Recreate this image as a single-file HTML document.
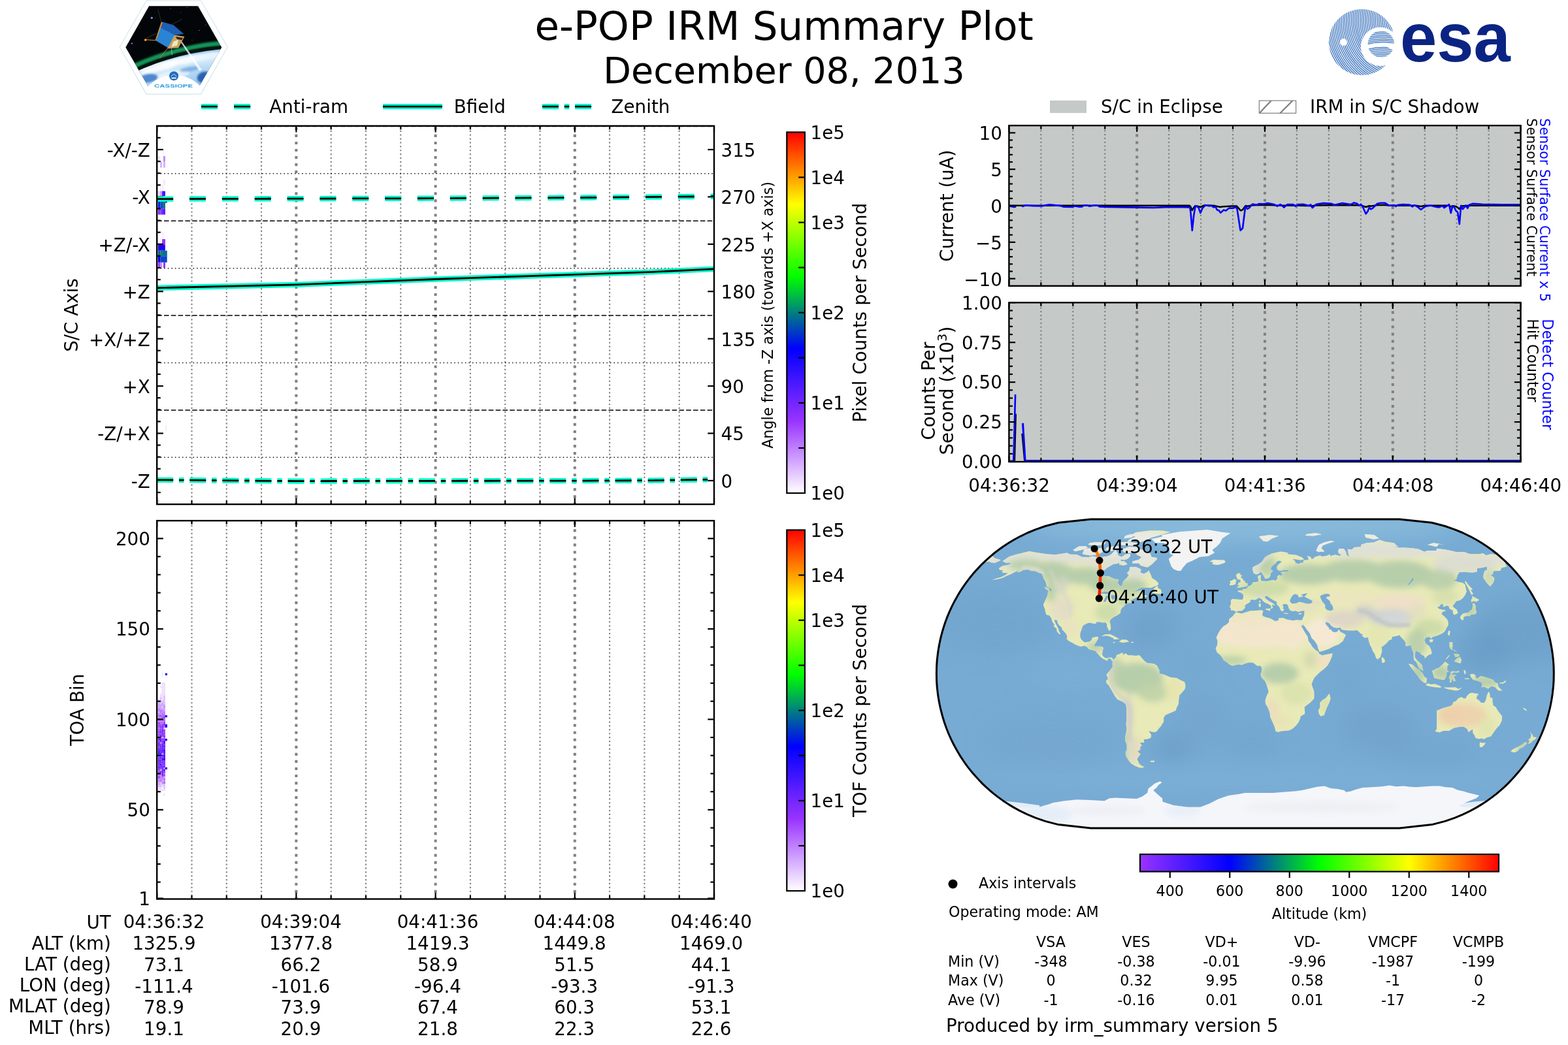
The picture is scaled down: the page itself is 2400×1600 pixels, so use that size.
<!DOCTYPE html>
<html lang="en"><head><meta charset="utf-8"><title>e-POP IRM Summary Plot</title>
<style>
html,body{margin:0;padding:0;background:#fff;}
body{width:2400px;height:1600px;overflow:hidden;}
svg{display:block;font-family:'DejaVu Sans','Liberation Sans',sans-serif;}
</style></head><body>
<svg width="2400" height="1600" viewBox="0 0 2400 1600">
<rect width="2400" height="1600" fill="#fff"/>
<g id="cassiope">
<defs><clipPath id="hexc"><polygon points="192.3,72.4 228.1,9.2 303.1,9.2 339.2,72.4 305.4,131.4 226.3,131.4"/></clipPath><radialGradient id="earthg" cx="0.5" cy="0.5" r="0.5"><stop offset="0" stop-color="#3d7fca"/><stop offset="0.8" stop-color="#6aa6de"/><stop offset="0.94" stop-color="#b9dcf5"/><stop offset="0.985" stop-color="#eaf6ff"/><stop offset="1" stop-color="#8fc4ee"/></radialGradient><filter id="bl2" x="-20%" y="-20%" width="140%" height="140%"><feGaussianBlur stdDeviation="1.6"/></filter><filter id="bl1" x="-20%" y="-20%" width="140%" height="140%"><feGaussianBlur stdDeviation="0.7"/></filter></defs>
<polygon points="183.2,72.1 224,1 307.5,1 348.3,72.1 307.5,144.1 224,144.1" fill="#fff" stroke="#cfe6ea" stroke-width="1.1"/>
<g clip-path="url(#hexc)">
<rect x="190" y="8" width="152" height="125" fill="#030608"/>
<circle cx="373.2" cy="471.9" r="407" fill="none" stroke="#19b36b" stroke-width="7" opacity="0.85" filter="url(#bl2)"/>
<circle cx="373.2" cy="471.9" r="400.4" fill="none" stroke="#04140c" stroke-width="5"/>
<circle cx="373.2" cy="471.9" r="398" fill="url(#earthg)"/>
<clipPath id="earthc"><circle cx="373.2" cy="471.9" r="398"/></clipPath>
<g clip-path="url(#earthc)"><g filter="url(#bl2)">
<ellipse cx="239.3" cy="102" rx="33.2" ry="7" fill="#ffffff" opacity="0.75" transform="rotate(-9 239.3 102)"/>
<ellipse cx="283.9" cy="91.8" rx="33.2" ry="5.7" fill="#ffffff" opacity="0.7" transform="rotate(-9 283.9 91.8)"/>
<ellipse cx="315.8" cy="86.7" rx="20.4" ry="5.1" fill="#e8f4ff" opacity="0.7" transform="rotate(-9 315.8 86.7)"/>
<ellipse cx="264.8" cy="114.8" rx="25.5" ry="6.4" fill="#ffffff" opacity="0.6" transform="rotate(-9 264.8 114.8)"/>
<ellipse cx="226.5" cy="119.9" rx="15.3" ry="6.4" fill="#2f6fc2" opacity="0.8" transform="rotate(-9 226.5 119.9)"/>
<ellipse cx="313.3" cy="118.6" rx="11.5" ry="8.9" fill="#1f55ad" opacity="0.9" transform="rotate(-9 313.3 118.6)"/>
<ellipse cx="290.3" cy="105.9" rx="15.3" ry="3.8" fill="#5a98da" opacity="0.6" transform="rotate(-9 290.3 105.9)"/>
<ellipse cx="246.9" cy="126.3" rx="10.2" ry="3.8" fill="#7fb3e6" opacity="0.7" transform="rotate(-9 246.9 126.3)"/>
</g></g>
<circle cx="232.3" cy="27.4" r="1.6" fill="#8f8fe0"/>
<circle cx="202" cy="66.6" r="1.2" fill="#7c7cd6"/>
<circle cx="305" cy="46.6" r="0.6" fill="#bbb"/>
<circle cx="261" cy="13.4" r="0.5" fill="#999"/>
<circle cx="286.5" cy="11.5" r="0.5" fill="#888"/>
<circle cx="276.3" cy="19.1" r="0.5" fill="#777"/>
<circle cx="314.5" cy="38.3" r="0.5" fill="#999"/>
<circle cx="213.8" cy="42.1" r="0.5" fill="#777"/>
<circle cx="294.1" cy="61.2" r="0.5" fill="#888"/>
<circle cx="238" cy="26.8" r="0.5" fill="#666"/>
<polygon points="275.6,63.1 277.6,62.5 308.8,106.5 305,108.4" fill="#ffffff" opacity="0.75"/>
<line x1="246.9" y1="33.8" x2="241.8" y2="14" stroke="#5a5a4a" stroke-width="0.5"/>
<line x1="264.2" y1="37" x2="278.8" y2="29.1" stroke="#6a5a3a" stroke-width="0.5"/>
<line x1="239.3" y1="61.9" x2="221.4" y2="60.6" stroke="#e0902a" stroke-width="1.0"/>
<line x1="239.3" y1="51" x2="221.4" y2="59.9" stroke="#8a6a3a" stroke-width="0.5"/>
<line x1="257.1" y1="73.3" x2="244.4" y2="89.3" stroke="#c9772a" stroke-width="1.0"/>
<line x1="262.2" y1="74" x2="263.5" y2="84.2" stroke="#b9b9c9" stroke-width="0.8"/>
<circle cx="222.7" cy="61.2" r="1.6" fill="#ffb84a"/>
<polygon points="266.7,53.6 282.4,55.9 273.1,73.3 256.5,74.6 255.9,68.9" fill="#c9a25a"/>
<polygon points="265.4,63.8 273.1,60.6 271.2,69.5 262.2,72.1" fill="#efe6c8"/>
<polygon points="268.6,56.1 280.1,58 278.2,61.2 271.2,59.9" fill="#2a2418"/>
<polygon points="248.2,33.4 265.4,38.3 281.4,52 266.7,53.8 245,42.1" fill="#1c5fb4"/>
<polygon points="245,41.8 267.1,53.6 256.9,73 238,62.1" fill="#2a84d4"/>
<polygon points="246.9,33.4 248.9,34.2 239.3,61.2 237.8,61" fill="#d8922e"/>
</g>
<clipPath id="hexw"><polygon points="188.3,72.4 226.5,5.1 304.3,5.1 342.6,72.4 305.9,136.5 225.8,136.5"/></clipPath>
<circle cx="266.7" cy="169.6" r="54.8" fill="#ffffff" clip-path="url(#hexw)"/>
<circle cx="266.1" cy="116.3" r="7" fill="#1f6dbd"/><path d="M262.1 117.3 Q266.1 110.3 270.1 117.3" fill="none" stroke="#dbe9f7" stroke-width="0.9"/><rect x="262.5" y="118.5" width="7.2" height="2" fill="#e8f0fa"/>
<text x="236.1" y="133.5" font-family="'Liberation Sans','DejaVu Sans',sans-serif" font-weight="bold" font-size="6.6" fill="#2a9fd8" textLength="59" lengthAdjust="spacingAndGlyphs">CASSIOPE</text>
</g>
<g id="esa">
<defs><clipPath id="esac"><circle cx="2084.5" cy="64.6" r="50.6"/></clipPath><clipPath id="esae"><circle cx="2113.9" cy="67.5" r="20.3"/></clipPath><mask id="esam"><rect x="2020" y="0" width="140" height="130" fill="#fff"/><circle cx="2112.5" cy="71.4" r="29.6" fill="#000"/><circle cx="2056.4" cy="64.6" r="5.5" fill="#000"/></mask></defs>
<g clip-path="url(#esac)"><g mask="url(#esam)" fill="none" stroke="#4a7ec2" stroke-width="1.5">
<circle cx="2151.4" cy="30.4" r="12"/>
<circle cx="2151.4" cy="30.4" r="14.6"/>
<circle cx="2151.4" cy="30.4" r="17.2"/>
<circle cx="2151.4" cy="30.4" r="19.9"/>
<circle cx="2151.4" cy="30.4" r="22.5"/>
<circle cx="2151.4" cy="30.4" r="25.1"/>
<circle cx="2151.4" cy="30.4" r="27.7"/>
<circle cx="2151.4" cy="30.4" r="30.3"/>
<circle cx="2151.4" cy="30.4" r="33"/>
<circle cx="2151.4" cy="30.4" r="35.6"/>
<circle cx="2151.4" cy="30.4" r="38.2"/>
<circle cx="2151.4" cy="30.4" r="40.8"/>
<circle cx="2151.4" cy="30.4" r="43.4"/>
<circle cx="2151.4" cy="30.4" r="46.1"/>
<circle cx="2151.4" cy="30.4" r="48.7"/>
<circle cx="2151.4" cy="30.4" r="51.3"/>
<circle cx="2151.4" cy="30.4" r="53.9"/>
<circle cx="2151.4" cy="30.4" r="56.5"/>
<circle cx="2151.4" cy="30.4" r="59.2"/>
<circle cx="2151.4" cy="30.4" r="61.8"/>
<circle cx="2151.4" cy="30.4" r="64.4"/>
<circle cx="2151.4" cy="30.4" r="67"/>
<circle cx="2151.4" cy="30.4" r="69.6"/>
<circle cx="2151.4" cy="30.4" r="72.3"/>
<circle cx="2151.4" cy="30.4" r="74.9"/>
<circle cx="2151.4" cy="30.4" r="77.5"/>
<circle cx="2151.4" cy="30.4" r="80.1"/>
<circle cx="2151.4" cy="30.4" r="82.7"/>
<circle cx="2151.4" cy="30.4" r="85.4"/>
<circle cx="2151.4" cy="30.4" r="88"/>
<circle cx="2151.4" cy="30.4" r="90.6"/>
<circle cx="2151.4" cy="30.4" r="93.2"/>
<circle cx="2151.4" cy="30.4" r="95.8"/>
<circle cx="2151.4" cy="30.4" r="98.5"/>
<circle cx="2151.4" cy="30.4" r="101.1"/>
<circle cx="2151.4" cy="30.4" r="103.7"/>
<circle cx="2151.4" cy="30.4" r="106.3"/>
<circle cx="2151.4" cy="30.4" r="108.9"/>
<circle cx="2151.4" cy="30.4" r="111.6"/>
<circle cx="2151.4" cy="30.4" r="114.2"/>
<circle cx="2151.4" cy="30.4" r="116.8"/>
<circle cx="2151.4" cy="30.4" r="119.4"/>
<circle cx="2151.4" cy="30.4" r="122"/>
<circle cx="2151.4" cy="30.4" r="124.7"/>
<circle cx="2151.4" cy="30.4" r="127.3"/>
<circle cx="2151.4" cy="30.4" r="129.9"/>
<circle cx="2151.4" cy="30.4" r="132.5"/>
<circle cx="2151.4" cy="30.4" r="135.1"/>
<circle cx="2151.4" cy="30.4" r="137.8"/>
</g></g>
<g clip-path="url(#esae)" stroke="#4a7ec2" stroke-width="1.5" fill="none">
<path d="M2091.9 49.5 Q2113.9 44 2135.9 48"/>
<path d="M2091.9 52.1 Q2113.9 46.6 2135.9 50.6"/>
<path d="M2091.9 54.7 Q2113.9 49.2 2135.9 53.2"/>
<path d="M2091.9 57.4 Q2113.9 51.9 2135.9 55.9"/>
<path d="M2091.9 60 Q2113.9 54.5 2135.9 58.5"/>
<path d="M2091.9 62.6 Q2113.9 57.1 2135.9 61.1"/>
<path d="M2091.9 65.2 Q2113.9 59.7 2135.9 63.7"/>
<path d="M2091.9 67.8 Q2113.9 62.3 2135.9 66.3"/>
<path d="M2091.9 75.7 Q2113.9 70.2 2135.9 74.2"/>
<path d="M2091.9 78.3 Q2113.9 72.8 2135.9 76.8"/>
<path d="M2091.9 80.9 Q2113.9 75.4 2135.9 79.4"/>
<path d="M2091.9 83.6 Q2113.9 78.1 2135.9 82.1"/>
<path d="M2091.9 86.2 Q2113.9 80.7 2135.9 84.7"/>
<path d="M2091.9 88.8 Q2113.9 83.3 2135.9 87.3"/>
<path d="M2091.9 91.4 Q2113.9 85.9 2135.9 89.9"/>
</g>
<rect x="2100.9" y="66.5" width="36" height="4.6" fill="#fff"/>
<path d="M2121.9 71.1 L2137.9 71.1 L2137.9 80.5 Z" fill="#fff"/>
<text x="2142.9" y="93.8" font-family="'Liberation Sans','DejaVu Sans',sans-serif" font-weight="bold" font-size="106" fill="#0b2484" textLength="169" lengthAdjust="spacingAndGlyphs">esa</text>
</g>
<text x="1200" y="61.4" font-size="61.1" text-anchor="middle" fill="#000">e-POP IRM Summary Plot</text>
<text x="1200" y="127.4" font-size="55.6" text-anchor="middle" fill="#000">December 08, 2013</text>
<g id="axA">
<rect x="248.4" y="210.7" width="1.5" height="9.2" fill="#f6f0ff"/><rect x="249.9" y="230.6" width="1.2" height="8.4" fill="#f3eaff"/><rect x="241.9" y="239" width="3.4" height="8.4" fill="#efe4ff"/><rect x="245" y="247.8" width="3.1" height="8.9" fill="#d9b8ff"/><rect x="249.9" y="239" width="3.1" height="8.7" fill="#c48cff"/><rect x="249.9" y="247.8" width="3.1" height="8.9" fill="#d6b0ff"/><rect x="249.9" y="275" width="3.1" height="8.4" fill="#f3eaff"/><rect x="248.4" y="283.4" width="1.5" height="9.2" fill="#f0e6ff"/><rect x="245" y="285.7" width="1.2" height="6.9" fill="#f3eaff"/><rect x="241.9" y="292.6" width="3.4" height="7.7" fill="#e8d6ff"/><rect x="245" y="292.6" width="3.1" height="7.7" fill="#c89bff"/><rect x="248.1" y="292.6" width="4.9" height="7.7" fill="#4a14ff"/><rect x="241.9" y="308.4" width="3.4" height="11.3" fill="#0a22e6"/><rect x="245.3" y="308.4" width="4.6" height="11.3" fill="#0f4fbe"/><rect x="249.9" y="308.4" width="3.1" height="11.3" fill="#0a7380"/><rect x="253" y="308.1" width="2.8" height="2.4" fill="#1a10ff"/><rect x="241.9" y="319.7" width="3.4" height="8.9" fill="#9030ff"/><rect x="245.3" y="319.7" width="2.8" height="8.9" fill="#8433ff"/><rect x="248.1" y="319.7" width="4.9" height="8.9" fill="#5a22ff"/><rect x="248.4" y="356.1" width="2.3" height="9.9" fill="#f3eaff"/><rect x="241.9" y="365.3" width="1.2" height="6.1" fill="#efe4ff"/><rect x="245" y="365.3" width="1.2" height="6.1" fill="#f0e6ff"/><rect x="248.1" y="366.1" width="4.9" height="8.7" fill="#9933ff"/><rect x="241.9" y="374.8" width="11" height="8.9" fill="#2200ff"/><rect x="241.9" y="383.7" width="3.4" height="9.2" fill="#0a6294"/><rect x="245.3" y="383.7" width="2.8" height="9.2" fill="#0a8272"/><rect x="248.1" y="383.7" width="7.7" height="9.2" fill="#0a6f94"/><rect x="241.9" y="392.9" width="3.4" height="8.9" fill="#0000ff"/><rect x="245.3" y="392.9" width="10.4" height="8.9" fill="#1042d2"/><rect x="241.9" y="401.7" width="3.4" height="8.3" fill="#a040ff"/><rect x="245.3" y="401.7" width="2.8" height="8.3" fill="#c58aff"/><rect x="249.9" y="401.7" width="3.1" height="8.3" fill="#9933ff"/><rect x="252.8" y="651" width="2.4" height="9" fill="#f5edff"/><rect x="241.8" y="766" width="2.4" height="4" fill="#e9d8ff"/>
<line x1="293.5" y1="192.8" x2="293.5" y2="772.1" stroke="#808080" stroke-width="2.1" stroke-dasharray="2.22 3.67" stroke-dashoffset="-1"/>
<line x1="346.8" y1="192.8" x2="346.8" y2="772.1" stroke="#808080" stroke-width="2.1" stroke-dasharray="2.22 3.67" stroke-dashoffset="-1"/>
<line x1="400.1" y1="192.8" x2="400.1" y2="772.1" stroke="#808080" stroke-width="2.1" stroke-dasharray="2.22 3.67" stroke-dashoffset="-1"/>
<line x1="453.4" y1="192.8" x2="453.4" y2="772.1" stroke="#808080" stroke-width="4" stroke-dasharray="4.17 6.88" stroke-dashoffset="-2"/>
<line x1="506.7" y1="192.8" x2="506.7" y2="772.1" stroke="#808080" stroke-width="2.1" stroke-dasharray="2.22 3.67" stroke-dashoffset="-1"/>
<line x1="560" y1="192.8" x2="560" y2="772.1" stroke="#808080" stroke-width="2.1" stroke-dasharray="2.22 3.67" stroke-dashoffset="-1"/>
<line x1="613.3" y1="192.8" x2="613.3" y2="772.1" stroke="#808080" stroke-width="2.1" stroke-dasharray="2.22 3.67" stroke-dashoffset="-1"/>
<line x1="666.6" y1="192.8" x2="666.6" y2="772.1" stroke="#808080" stroke-width="4" stroke-dasharray="4.17 6.88" stroke-dashoffset="-2"/>
<line x1="719.9" y1="192.8" x2="719.9" y2="772.1" stroke="#808080" stroke-width="2.1" stroke-dasharray="2.22 3.67" stroke-dashoffset="-1"/>
<line x1="773.2" y1="192.8" x2="773.2" y2="772.1" stroke="#808080" stroke-width="2.1" stroke-dasharray="2.22 3.67" stroke-dashoffset="-1"/>
<line x1="826.5" y1="192.8" x2="826.5" y2="772.1" stroke="#808080" stroke-width="2.1" stroke-dasharray="2.22 3.67" stroke-dashoffset="-1"/>
<line x1="879.8" y1="192.8" x2="879.8" y2="772.1" stroke="#808080" stroke-width="4" stroke-dasharray="4.17 6.88" stroke-dashoffset="-2"/>
<line x1="933.1" y1="192.8" x2="933.1" y2="772.1" stroke="#808080" stroke-width="2.1" stroke-dasharray="2.22 3.67" stroke-dashoffset="-1"/>
<line x1="986.4" y1="192.8" x2="986.4" y2="772.1" stroke="#808080" stroke-width="2.1" stroke-dasharray="2.22 3.67" stroke-dashoffset="-1"/>
<line x1="1039.7" y1="192.8" x2="1039.7" y2="772.1" stroke="#808080" stroke-width="2.1" stroke-dasharray="2.22 3.67" stroke-dashoffset="-1"/>
<line x1="240.2" y1="700.29" x2="1093" y2="700.29" stroke="#000" stroke-width="1.5" stroke-dasharray="1.4 4.15"/>
<line x1="240.2" y1="627.88" x2="1093" y2="627.88" stroke="#000" stroke-width="1.5" stroke-dasharray="7.6 3.2"/>
<line x1="240.2" y1="555.46" x2="1093" y2="555.46" stroke="#000" stroke-width="1.5" stroke-dasharray="1.4 4.15"/>
<line x1="240.2" y1="483.05" x2="1093" y2="483.05" stroke="#000" stroke-width="1.5" stroke-dasharray="7.6 3.2"/>
<line x1="240.2" y1="410.64" x2="1093" y2="410.64" stroke="#000" stroke-width="1.5" stroke-dasharray="1.4 4.15"/>
<line x1="240.2" y1="338.23" x2="1093" y2="338.23" stroke="#000" stroke-width="1.5" stroke-dasharray="7.6 3.2"/>
<line x1="240.2" y1="265.81" x2="1093" y2="265.81" stroke="#000" stroke-width="1.5" stroke-dasharray="1.4 4.15"/>
<line x1="240.2" y1="193.4" x2="1093" y2="193.4" stroke="#000" stroke-width="1.5" stroke-dasharray="7.6 3.2"/>
<line x1="240.2" y1="192.8" x2="240.2" y2="202.5" stroke="#000" stroke-width="2.2"/>
<line x1="240.2" y1="772.1" x2="240.2" y2="762.4" stroke="#000" stroke-width="2.2"/>
<line x1="293.5" y1="192.8" x2="293.5" y2="198.4" stroke="#000" stroke-width="2.2"/>
<line x1="293.5" y1="772.1" x2="293.5" y2="766.5" stroke="#000" stroke-width="2.2"/>
<line x1="346.8" y1="192.8" x2="346.8" y2="198.4" stroke="#000" stroke-width="2.2"/>
<line x1="346.8" y1="772.1" x2="346.8" y2="766.5" stroke="#000" stroke-width="2.2"/>
<line x1="400.1" y1="192.8" x2="400.1" y2="198.4" stroke="#000" stroke-width="2.2"/>
<line x1="400.1" y1="772.1" x2="400.1" y2="766.5" stroke="#000" stroke-width="2.2"/>
<line x1="453.4" y1="192.8" x2="453.4" y2="202.5" stroke="#000" stroke-width="2.2"/>
<line x1="453.4" y1="772.1" x2="453.4" y2="762.4" stroke="#000" stroke-width="2.2"/>
<line x1="506.7" y1="192.8" x2="506.7" y2="198.4" stroke="#000" stroke-width="2.2"/>
<line x1="506.7" y1="772.1" x2="506.7" y2="766.5" stroke="#000" stroke-width="2.2"/>
<line x1="560" y1="192.8" x2="560" y2="198.4" stroke="#000" stroke-width="2.2"/>
<line x1="560" y1="772.1" x2="560" y2="766.5" stroke="#000" stroke-width="2.2"/>
<line x1="613.3" y1="192.8" x2="613.3" y2="198.4" stroke="#000" stroke-width="2.2"/>
<line x1="613.3" y1="772.1" x2="613.3" y2="766.5" stroke="#000" stroke-width="2.2"/>
<line x1="666.6" y1="192.8" x2="666.6" y2="202.5" stroke="#000" stroke-width="2.2"/>
<line x1="666.6" y1="772.1" x2="666.6" y2="762.4" stroke="#000" stroke-width="2.2"/>
<line x1="719.9" y1="192.8" x2="719.9" y2="198.4" stroke="#000" stroke-width="2.2"/>
<line x1="719.9" y1="772.1" x2="719.9" y2="766.5" stroke="#000" stroke-width="2.2"/>
<line x1="773.2" y1="192.8" x2="773.2" y2="198.4" stroke="#000" stroke-width="2.2"/>
<line x1="773.2" y1="772.1" x2="773.2" y2="766.5" stroke="#000" stroke-width="2.2"/>
<line x1="826.5" y1="192.8" x2="826.5" y2="198.4" stroke="#000" stroke-width="2.2"/>
<line x1="826.5" y1="772.1" x2="826.5" y2="766.5" stroke="#000" stroke-width="2.2"/>
<line x1="879.8" y1="192.8" x2="879.8" y2="202.5" stroke="#000" stroke-width="2.2"/>
<line x1="879.8" y1="772.1" x2="879.8" y2="762.4" stroke="#000" stroke-width="2.2"/>
<line x1="933.1" y1="192.8" x2="933.1" y2="198.4" stroke="#000" stroke-width="2.2"/>
<line x1="933.1" y1="772.1" x2="933.1" y2="766.5" stroke="#000" stroke-width="2.2"/>
<line x1="986.4" y1="192.8" x2="986.4" y2="198.4" stroke="#000" stroke-width="2.2"/>
<line x1="986.4" y1="772.1" x2="986.4" y2="766.5" stroke="#000" stroke-width="2.2"/>
<line x1="1039.7" y1="192.8" x2="1039.7" y2="198.4" stroke="#000" stroke-width="2.2"/>
<line x1="1039.7" y1="772.1" x2="1039.7" y2="766.5" stroke="#000" stroke-width="2.2"/>
<line x1="1093" y1="192.8" x2="1093" y2="202.5" stroke="#000" stroke-width="2.2"/>
<line x1="1093" y1="772.1" x2="1093" y2="762.4" stroke="#000" stroke-width="2.2"/>
<line x1="240.2" y1="754" x2="245.8" y2="754" stroke="#000" stroke-width="2.2"/>
<line x1="240.2" y1="735.89" x2="249.9" y2="735.89" stroke="#000" stroke-width="2.2"/>
<line x1="240.2" y1="717.79" x2="245.8" y2="717.79" stroke="#000" stroke-width="2.2"/>
<line x1="240.2" y1="699.69" x2="245.8" y2="699.69" stroke="#000" stroke-width="2.2"/>
<line x1="240.2" y1="681.58" x2="245.8" y2="681.58" stroke="#000" stroke-width="2.2"/>
<line x1="240.2" y1="663.48" x2="249.9" y2="663.48" stroke="#000" stroke-width="2.2"/>
<line x1="240.2" y1="645.38" x2="245.8" y2="645.38" stroke="#000" stroke-width="2.2"/>
<line x1="240.2" y1="627.28" x2="245.8" y2="627.28" stroke="#000" stroke-width="2.2"/>
<line x1="240.2" y1="609.17" x2="245.8" y2="609.17" stroke="#000" stroke-width="2.2"/>
<line x1="240.2" y1="591.07" x2="249.9" y2="591.07" stroke="#000" stroke-width="2.2"/>
<line x1="240.2" y1="572.97" x2="245.8" y2="572.97" stroke="#000" stroke-width="2.2"/>
<line x1="240.2" y1="554.86" x2="245.8" y2="554.86" stroke="#000" stroke-width="2.2"/>
<line x1="240.2" y1="536.76" x2="245.8" y2="536.76" stroke="#000" stroke-width="2.2"/>
<line x1="240.2" y1="518.66" x2="249.9" y2="518.66" stroke="#000" stroke-width="2.2"/>
<line x1="240.2" y1="500.55" x2="245.8" y2="500.55" stroke="#000" stroke-width="2.2"/>
<line x1="240.2" y1="482.45" x2="245.8" y2="482.45" stroke="#000" stroke-width="2.2"/>
<line x1="240.2" y1="464.35" x2="245.8" y2="464.35" stroke="#000" stroke-width="2.2"/>
<line x1="240.2" y1="446.24" x2="249.9" y2="446.24" stroke="#000" stroke-width="2.2"/>
<line x1="240.2" y1="428.14" x2="245.8" y2="428.14" stroke="#000" stroke-width="2.2"/>
<line x1="240.2" y1="410.04" x2="245.8" y2="410.04" stroke="#000" stroke-width="2.2"/>
<line x1="240.2" y1="391.93" x2="245.8" y2="391.93" stroke="#000" stroke-width="2.2"/>
<line x1="240.2" y1="373.83" x2="249.9" y2="373.83" stroke="#000" stroke-width="2.2"/>
<line x1="240.2" y1="355.73" x2="245.8" y2="355.73" stroke="#000" stroke-width="2.2"/>
<line x1="240.2" y1="337.62" x2="245.8" y2="337.62" stroke="#000" stroke-width="2.2"/>
<line x1="240.2" y1="319.52" x2="245.8" y2="319.52" stroke="#000" stroke-width="2.2"/>
<line x1="240.2" y1="301.42" x2="249.9" y2="301.42" stroke="#000" stroke-width="2.2"/>
<line x1="240.2" y1="283.32" x2="245.8" y2="283.32" stroke="#000" stroke-width="2.2"/>
<line x1="240.2" y1="265.21" x2="245.8" y2="265.21" stroke="#000" stroke-width="2.2"/>
<line x1="240.2" y1="247.11" x2="245.8" y2="247.11" stroke="#000" stroke-width="2.2"/>
<line x1="240.2" y1="229.01" x2="249.9" y2="229.01" stroke="#000" stroke-width="2.2"/>
<line x1="240.2" y1="210.9" x2="245.8" y2="210.9" stroke="#000" stroke-width="2.2"/>
<line x1="1093" y1="735.89" x2="1083.3" y2="735.89" stroke="#000" stroke-width="2.2"/>
<line x1="1093" y1="663.48" x2="1083.3" y2="663.48" stroke="#000" stroke-width="2.2"/>
<line x1="1093" y1="591.07" x2="1083.3" y2="591.07" stroke="#000" stroke-width="2.2"/>
<line x1="1093" y1="518.66" x2="1083.3" y2="518.66" stroke="#000" stroke-width="2.2"/>
<line x1="1093" y1="446.24" x2="1083.3" y2="446.24" stroke="#000" stroke-width="2.2"/>
<line x1="1093" y1="373.83" x2="1083.3" y2="373.83" stroke="#000" stroke-width="2.2"/>
<line x1="1093" y1="301.42" x2="1083.3" y2="301.42" stroke="#000" stroke-width="2.2"/>
<line x1="1093" y1="229.01" x2="1083.3" y2="229.01" stroke="#000" stroke-width="2.2"/>
<clipPath id="clipA"><rect x="240.2" y="192.8" width="852.8" height="579.3"/></clipPath>
<g clip-path="url(#clipA)">
<path d="M240.2 304.6 L660 303.7 L900 302.5 L1093 300.7" fill="none" stroke="#00ffcc" stroke-width="8.3" stroke-dasharray="25 24.85"/>
<path d="M240.2 304.6 L660 303.7 L900 302.5 L1093 300.7" fill="none" stroke="#000" stroke-width="2.8" stroke-dasharray="25 24.85"/>
<path d="M240.2 440.8 L453 435.8 L666 427.5 L880 420.3 L1000 416.3 L1093 411.8" fill="none" stroke="#00ffcc" stroke-width="8.3"/>
<path d="M240.2 440.8 L453 435.8 L666 427.5 L880 420.3 L1000 416.3 L1093 411.8" fill="none" stroke="#000" stroke-width="2.8"/>
<path d="M240.2 734.8 L453 736.6 L666 736.3 L880 736.1 L1000 735.6 L1093 734.1" fill="none" stroke="#00ffcc" stroke-width="8.3" stroke-dasharray="25 8.8 7.5 8.8"/>
<path d="M240.2 734.8 L453 736.6 L666 736.3 L880 736.1 L1000 735.6 L1093 734.1" fill="none" stroke="#000" stroke-width="2.8" stroke-dasharray="25 8.8 7.5 8.8"/>
</g>
<rect x="240.2" y="192.8" width="852.8" height="579.3" fill="none" stroke="#000" stroke-width="2.4"/>
<text x="229.9" y="746.89" font-size="27.78" text-anchor="end" fill="#000">-Z</text>
<text x="1103.5" y="746.79" font-size="27.78" text-anchor="start" fill="#000">0</text>
<text x="229.9" y="674.48" font-size="27.78" text-anchor="end" fill="#000">-Z/+X</text>
<text x="1103.5" y="674.38" font-size="27.78" text-anchor="start" fill="#000">45</text>
<text x="229.9" y="602.07" font-size="27.78" text-anchor="end" fill="#000">+X</text>
<text x="1103.5" y="601.97" font-size="27.78" text-anchor="start" fill="#000">90</text>
<text x="229.9" y="529.66" font-size="27.78" text-anchor="end" fill="#000">+X/+Z</text>
<text x="1103.5" y="529.56" font-size="27.78" text-anchor="start" fill="#000">135</text>
<text x="229.9" y="457.24" font-size="27.78" text-anchor="end" fill="#000">+Z</text>
<text x="1103.5" y="457.14" font-size="27.78" text-anchor="start" fill="#000">180</text>
<text x="229.9" y="384.83" font-size="27.78" text-anchor="end" fill="#000">+Z/-X</text>
<text x="1103.5" y="384.73" font-size="27.78" text-anchor="start" fill="#000">225</text>
<text x="229.9" y="312.42" font-size="27.78" text-anchor="end" fill="#000">-X</text>
<text x="1103.5" y="312.32" font-size="27.78" text-anchor="start" fill="#000">270</text>
<text x="229.9" y="240.01" font-size="27.78" text-anchor="end" fill="#000">-X/-Z</text>
<text x="1103.5" y="239.91" font-size="27.78" text-anchor="start" fill="#000">315</text>
<text x="119.5" y="482.45" font-size="27.78" text-anchor="middle" fill="#000" transform="rotate(-90 119.5 482.45)">S/C Axis</text>
<text x="1182.8" y="482.45" font-size="22.2" text-anchor="middle" fill="#000" transform="rotate(-90 1182.8 482.45)">Angle from -Z axis (towards +X axis)</text>
</g>
<line x1="308" y1="163.1" x2="383.2" y2="163.1" stroke="#00ffcc" stroke-width="8.3" stroke-dasharray="25.1 25"/>
<line x1="308" y1="163.1" x2="383.2" y2="163.1" stroke="#000" stroke-width="2.8" stroke-dasharray="25.1 25"/>
<text x="412.3" y="173" font-size="27.78" text-anchor="start" fill="#000">Anti-ram</text>
<line x1="586" y1="163.1" x2="677" y2="163.1" stroke="#00ffcc" stroke-width="8.3"/>
<line x1="586" y1="163.1" x2="677" y2="163.1" stroke="#000" stroke-width="2.8"/>
<text x="694.8" y="173" font-size="27.78" text-anchor="start" fill="#000">Bfield</text>
<line x1="830" y1="163.1" x2="905.5" y2="163.1" stroke="#00ffcc" stroke-width="8.3" stroke-dasharray="25 8.8 7.5 8.8"/>
<line x1="830" y1="163.1" x2="905.5" y2="163.1" stroke="#000" stroke-width="2.8" stroke-dasharray="25 8.8 7.5 8.8"/>
<text x="935.5" y="173" font-size="27.78" text-anchor="start" fill="#000">Zenith</text>
<defs><linearGradient id="cmv" x1="0" y1="0" x2="0" y2="1"><stop offset="0" stop-color="#ff0000"/><stop offset="0.2" stop-color="#ffff00"/><stop offset="0.4" stop-color="#00ff00"/><stop offset="0.6" stop-color="#0000ff"/><stop offset="0.8" stop-color="#9933ff"/><stop offset="1" stop-color="#ffffff"/></linearGradient><linearGradient id="cmh" x1="0" y1="0" x2="1" y2="0"><stop offset="0" stop-color="#9933ff"/><stop offset="0.25" stop-color="#0000ff"/><stop offset="0.5" stop-color="#00ff00"/><stop offset="0.75" stop-color="#ffff00"/><stop offset="1" stop-color="#ff0000"/></linearGradient></defs>
<rect x="1204.3" y="202.4" width="27.6" height="552.6" fill="url(#cmv)" stroke="#000" stroke-width="2.2"/>
<line x1="1231.9" y1="271.48" x2="1222.2" y2="271.48" stroke="#000" stroke-width="2.2"/>
<line x1="1231.9" y1="340.55" x2="1222.2" y2="340.55" stroke="#000" stroke-width="2.2"/>
<line x1="1231.9" y1="409.62" x2="1222.2" y2="409.62" stroke="#000" stroke-width="2.2"/>
<line x1="1231.9" y1="478.7" x2="1222.2" y2="478.7" stroke="#000" stroke-width="2.2"/>
<line x1="1231.9" y1="547.77" x2="1222.2" y2="547.77" stroke="#000" stroke-width="2.2"/>
<line x1="1231.9" y1="616.85" x2="1222.2" y2="616.85" stroke="#000" stroke-width="2.2"/>
<line x1="1231.9" y1="685.93" x2="1222.2" y2="685.93" stroke="#000" stroke-width="2.2"/>
<text x="1240.6" y="212.7" font-size="27.78" text-anchor="start" fill="#000">1e5</text>
<text x="1240.6" y="281.78" font-size="27.78" text-anchor="start" fill="#000">1e4</text>
<text x="1240.6" y="350.85" font-size="27.78" text-anchor="start" fill="#000">1e3</text>
<text x="1240.6" y="489" font-size="27.78" text-anchor="start" fill="#000">1e2</text>
<text x="1240.6" y="627.15" font-size="27.78" text-anchor="start" fill="#000">1e1</text>
<text x="1240.6" y="765.3" font-size="27.78" text-anchor="start" fill="#000">1e0</text>
<text x="1326" y="478.7" font-size="27.78" text-anchor="middle" fill="#000" transform="rotate(-90 1326 478.7)">Pixel Counts per Second</text>
<rect x="1204.3" y="811.5" width="27.6" height="552.5" fill="url(#cmv)" stroke="#000" stroke-width="2.2"/>
<line x1="1231.9" y1="880.56" x2="1222.2" y2="880.56" stroke="#000" stroke-width="2.2"/>
<line x1="1231.9" y1="949.62" x2="1222.2" y2="949.62" stroke="#000" stroke-width="2.2"/>
<line x1="1231.9" y1="1018.69" x2="1222.2" y2="1018.69" stroke="#000" stroke-width="2.2"/>
<line x1="1231.9" y1="1087.75" x2="1222.2" y2="1087.75" stroke="#000" stroke-width="2.2"/>
<line x1="1231.9" y1="1156.81" x2="1222.2" y2="1156.81" stroke="#000" stroke-width="2.2"/>
<line x1="1231.9" y1="1225.88" x2="1222.2" y2="1225.88" stroke="#000" stroke-width="2.2"/>
<line x1="1231.9" y1="1294.94" x2="1222.2" y2="1294.94" stroke="#000" stroke-width="2.2"/>
<text x="1240.6" y="821.8" font-size="27.78" text-anchor="start" fill="#000">1e5</text>
<text x="1240.6" y="890.86" font-size="27.78" text-anchor="start" fill="#000">1e4</text>
<text x="1240.6" y="959.92" font-size="27.78" text-anchor="start" fill="#000">1e3</text>
<text x="1240.6" y="1098.05" font-size="27.78" text-anchor="start" fill="#000">1e2</text>
<text x="1240.6" y="1236.17" font-size="27.78" text-anchor="start" fill="#000">1e1</text>
<text x="1240.6" y="1374.3" font-size="27.78" text-anchor="start" fill="#000">1e0</text>
<text x="1326" y="1087.75" font-size="27.78" text-anchor="middle" fill="#000" transform="rotate(-90 1326 1087.75)">TOF Counts per Second</text>
<g id="axB">
<path d="M247.5 1042.4h2.8v2.8h-2.8zM244.7 1045.1h2.8v2.8h-2.8zM241.9 1067.2h2.8v2.8h-2.8z" fill="#ffffff"/><path d="M247.5 1045.1h2.8v2.8h-2.8zM250.2 1045.1h2.8v2.8h-2.8zM247.5 1047.9h2.8v2.8h-2.8zM250.2 1047.9h2.8v2.8h-2.8zM244.7 1050.7h2.8v2.8h-2.8zM247.5 1050.7h2.8v2.8h-2.8zM250.2 1050.7h2.8v2.8h-2.8zM247.5 1053.4h2.8v2.8h-2.8zM250.2 1053.4h2.8v2.8h-2.8zM247.5 1056.2h2.8v2.8h-2.8zM250.2 1056.2h2.8v2.8h-2.8zM247.5 1059h2.8v2.8h-2.8zM250.2 1059h2.8v2.8h-2.8zM244.7 1061.7h2.8v2.8h-2.8zM247.5 1061.7h2.8v2.8h-2.8zM250.2 1061.7h2.8v2.8h-2.8zM244.7 1064.5h2.8v2.8h-2.8zM247.5 1064.5h2.8v2.8h-2.8zM247.5 1067.2h2.8v2.8h-2.8zM241.9 1070h2.8v2.8h-2.8zM247.5 1070h2.8v2.8h-2.8zM241.9 1072.8h2.8v2.8h-2.8zM247.5 1202.6h2.8v2.8h-2.8zM241.9 1205.3h2.8v2.8h-2.8zM244.7 1205.3h2.8v2.8h-2.8zM241.9 1208.1h2.8v2.8h-2.8zM244.7 1208.1h2.8v2.8h-2.8zM247.5 1208.1h2.8v2.8h-2.8zM250.2 1208.1h2.8v2.8h-2.8z" fill="#efe0ff"/><path d="M250.2 1064.5h2.8v2.8h-2.8zM244.7 1067.2h2.8v2.8h-2.8zM250.2 1067.2h2.8v2.8h-2.8zM244.7 1070h2.8v2.8h-2.8zM250.2 1070h2.8v2.8h-2.8zM247.5 1072.8h2.8v2.8h-2.8zM250.2 1072.8h2.8v2.8h-2.8zM244.7 1075.5h2.8v2.8h-2.8zM250.2 1075.5h2.8v2.8h-2.8zM247.5 1081h2.8v2.8h-2.8zM250.2 1114.2h2.8v2.8h-2.8zM244.7 1197.1h2.8v2.8h-2.8zM244.7 1199.8h2.8v2.8h-2.8zM247.5 1199.8h2.8v2.8h-2.8zM250.2 1199.8h2.8v2.8h-2.8zM241.9 1202.6h2.8v2.8h-2.8zM244.7 1202.6h2.8v2.8h-2.8zM250.2 1202.6h2.8v2.8h-2.8zM250.2 1205.3h2.8v2.8h-2.8z" fill="#e0c1ff"/><path d="M244.7 1072.8h2.8v2.8h-2.8zM241.9 1075.5h2.8v2.8h-2.8zM247.5 1075.5h2.8v2.8h-2.8zM241.9 1078.3h2.8v2.8h-2.8zM244.7 1078.3h2.8v2.8h-2.8zM247.5 1078.3h2.8v2.8h-2.8zM250.2 1078.3h2.8v2.8h-2.8zM241.9 1081h2.8v2.8h-2.8zM244.7 1081h2.8v2.8h-2.8zM244.7 1083.8h2.8v2.8h-2.8zM247.5 1083.8h2.8v2.8h-2.8zM250.2 1083.8h2.8v2.8h-2.8zM250.2 1086.6h2.8v2.8h-2.8zM241.9 1089.3h2.8v2.8h-2.8zM247.5 1128h2.8v2.8h-2.8zM247.5 1152.9h2.8v2.8h-2.8zM244.7 1177.7h2.8v2.8h-2.8zM250.2 1188.8h2.8v2.8h-2.8zM247.5 1194.3h2.8v2.8h-2.8zM241.9 1197.1h2.8v2.8h-2.8zM241.9 1199.8h2.8v2.8h-2.8z" fill="#d1a3ff"/><path d="M250.2 1081h2.8v2.8h-2.8zM241.9 1083.8h2.8v2.8h-2.8zM241.9 1086.6h2.8v2.8h-2.8zM247.5 1086.6h2.8v2.8h-2.8zM244.7 1089.3h2.8v2.8h-2.8zM247.5 1089.3h2.8v2.8h-2.8zM250.2 1089.3h2.8v2.8h-2.8zM241.9 1092.1h2.8v2.8h-2.8zM244.7 1092.1h2.8v2.8h-2.8zM250.2 1092.1h2.8v2.8h-2.8zM241.9 1097.6h2.8v2.8h-2.8zM244.7 1097.6h2.8v2.8h-2.8zM241.9 1103.1h2.8v2.8h-2.8zM244.7 1103.1h2.8v2.8h-2.8zM247.5 1103.1h2.8v2.8h-2.8zM244.7 1136.3h2.8v2.8h-2.8zM250.2 1175h2.8v2.8h-2.8zM244.7 1186h2.8v2.8h-2.8zM244.7 1188.8h2.8v2.8h-2.8zM241.9 1191.5h2.8v2.8h-2.8zM244.7 1191.5h2.8v2.8h-2.8zM247.5 1191.5h2.8v2.8h-2.8zM241.9 1194.3h2.8v2.8h-2.8zM250.2 1194.3h2.8v2.8h-2.8zM247.5 1197.1h2.8v2.8h-2.8z" fill="#c184ff"/><path d="M244.7 1086.6h2.8v2.8h-2.8zM247.5 1092.1h2.8v2.8h-2.8zM241.9 1094.9h2.8v2.8h-2.8zM247.5 1094.9h2.8v2.8h-2.8zM250.2 1100.4h2.8v2.8h-2.8zM250.2 1103.1h2.8v2.8h-2.8zM244.7 1105.9h2.8v2.8h-2.8zM247.5 1105.9h2.8v2.8h-2.8zM250.2 1111.4h2.8v2.8h-2.8zM241.9 1114.2h2.8v2.8h-2.8zM250.2 1183.2h2.8v2.8h-2.8zM241.9 1186h2.8v2.8h-2.8zM247.5 1188.8h2.8v2.8h-2.8zM250.2 1191.5h2.8v2.8h-2.8zM244.7 1194.3h2.8v2.8h-2.8zM250.2 1197.1h2.8v2.8h-2.8z" fill="#b266ff"/><path d="M244.7 1094.9h2.8v2.8h-2.8zM250.2 1094.9h2.8v2.8h-2.8zM247.5 1097.6h2.8v2.8h-2.8zM250.2 1097.6h2.8v2.8h-2.8zM244.7 1100.4h2.8v2.8h-2.8zM241.9 1108.7h2.8v2.8h-2.8zM244.7 1108.7h2.8v2.8h-2.8zM241.9 1111.4h2.8v2.8h-2.8zM244.7 1114.2h2.8v2.8h-2.8zM241.9 1117h2.8v2.8h-2.8zM250.2 1119.7h2.8v2.8h-2.8zM241.9 1122.5h2.8v2.8h-2.8zM244.7 1122.5h2.8v2.8h-2.8zM250.2 1122.5h2.8v2.8h-2.8zM241.9 1125.2h2.8v2.8h-2.8zM250.2 1128h2.8v2.8h-2.8zM241.9 1180.5h2.8v2.8h-2.8zM241.9 1183.2h2.8v2.8h-2.8zM244.7 1183.2h2.8v2.8h-2.8zM250.2 1186h2.8v2.8h-2.8z" fill="#a347ff"/><path d="M241.9 1100.4h2.8v2.8h-2.8zM247.5 1100.4h2.8v2.8h-2.8zM241.9 1105.9h2.8v2.8h-2.8zM250.2 1105.9h2.8v2.8h-2.8zM247.5 1108.7h2.8v2.8h-2.8zM247.5 1111.4h2.8v2.8h-2.8zM247.5 1114.2h2.8v2.8h-2.8zM244.7 1117h2.8v2.8h-2.8zM250.2 1117h2.8v2.8h-2.8zM241.9 1119.7h2.8v2.8h-2.8zM247.5 1125.2h2.8v2.8h-2.8zM250.2 1125.2h2.8v2.8h-2.8zM244.7 1128h2.8v2.8h-2.8zM250.2 1130.8h2.8v2.8h-2.8zM241.9 1133.5h2.8v2.8h-2.8zM247.5 1133.5h2.8v2.8h-2.8zM247.5 1136.3h2.8v2.8h-2.8zM244.7 1139.1h2.8v2.8h-2.8zM250.2 1139.1h2.8v2.8h-2.8zM241.9 1141.8h2.8v2.8h-2.8zM241.9 1155.6h2.8v2.8h-2.8zM247.5 1158.4h2.8v2.8h-2.8zM244.7 1161.1h2.8v2.8h-2.8zM250.2 1163.9h2.8v2.8h-2.8zM250.2 1166.7h2.8v2.8h-2.8zM247.5 1169.4h2.8v2.8h-2.8zM250.2 1169.4h2.8v2.8h-2.8zM244.7 1175h2.8v2.8h-2.8zM241.9 1177.7h2.8v2.8h-2.8zM250.2 1180.5h2.8v2.8h-2.8zM241.9 1188.8h2.8v2.8h-2.8z" fill="#9130ff"/><path d="M250.2 1108.7h2.8v2.8h-2.8zM244.7 1111.4h2.8v2.8h-2.8zM247.5 1117h2.8v2.8h-2.8zM247.5 1119.7h2.8v2.8h-2.8zM241.9 1128h2.8v2.8h-2.8zM247.5 1130.8h2.8v2.8h-2.8zM244.7 1141.8h2.8v2.8h-2.8zM244.7 1144.6h2.8v2.8h-2.8zM250.2 1144.6h2.8v2.8h-2.8zM244.7 1150.1h2.8v2.8h-2.8zM247.5 1150.1h2.8v2.8h-2.8zM241.9 1158.4h2.8v2.8h-2.8zM241.9 1161.1h2.8v2.8h-2.8zM247.5 1163.9h2.8v2.8h-2.8zM241.9 1166.7h2.8v2.8h-2.8zM244.7 1166.7h2.8v2.8h-2.8zM241.9 1169.4h2.8v2.8h-2.8zM244.7 1172.2h2.8v2.8h-2.8zM247.5 1172.2h2.8v2.8h-2.8zM250.2 1172.2h2.8v2.8h-2.8zM247.5 1175h2.8v2.8h-2.8zM247.5 1177.7h2.8v2.8h-2.8zM247.5 1180.5h2.8v2.8h-2.8zM247.5 1183.2h2.8v2.8h-2.8zM247.5 1186h2.8v2.8h-2.8z" fill="#7a28ff"/><path d="M244.7 1119.7h2.8v2.8h-2.8zM247.5 1122.5h2.8v2.8h-2.8zM241.9 1130.8h2.8v2.8h-2.8zM244.7 1130.8h2.8v2.8h-2.8zM244.7 1133.5h2.8v2.8h-2.8zM241.9 1136.3h2.8v2.8h-2.8zM241.9 1139.1h2.8v2.8h-2.8zM247.5 1139.1h2.8v2.8h-2.8zM247.5 1141.8h2.8v2.8h-2.8zM241.9 1144.6h2.8v2.8h-2.8zM247.5 1144.6h2.8v2.8h-2.8zM244.7 1147.3h2.8v2.8h-2.8zM250.2 1152.9h2.8v2.8h-2.8zM244.7 1158.4h2.8v2.8h-2.8zM244.7 1163.9h2.8v2.8h-2.8zM247.5 1166.7h2.8v2.8h-2.8zM241.9 1172.2h2.8v2.8h-2.8zM241.9 1175h2.8v2.8h-2.8zM244.7 1180.5h2.8v2.8h-2.8z" fill="#6321ff"/><path d="M244.7 1125.2h2.8v2.8h-2.8zM250.2 1133.5h2.8v2.8h-2.8zM250.2 1136.3h2.8v2.8h-2.8zM250.2 1141.8h2.8v2.8h-2.8zM241.9 1147.3h2.8v2.8h-2.8zM247.5 1147.3h2.8v2.8h-2.8zM250.2 1147.3h2.8v2.8h-2.8zM250.2 1150.1h2.8v2.8h-2.8zM244.7 1152.9h2.8v2.8h-2.8zM244.7 1155.6h2.8v2.8h-2.8zM247.5 1155.6h2.8v2.8h-2.8zM250.2 1155.6h2.8v2.8h-2.8zM250.2 1158.4h2.8v2.8h-2.8zM241.9 1163.9h2.8v2.8h-2.8zM250.2 1177.7h2.8v2.8h-2.8z" fill="#4c19ff"/><path d="M241.9 1150.1h2.8v2.8h-2.8zM241.9 1152.9h2.8v2.8h-2.8zM247.5 1161.1h2.8v2.8h-2.8zM250.2 1161.1h2.8v2.8h-2.8zM244.7 1169.4h2.8v2.8h-2.8z" fill="#3511ff"/><rect x="253" y="1030.7" width="3" height="3.3" fill="#0000ff"/><rect x="253" y="1095" width="3" height="3.3" fill="#0000ff"/><rect x="253" y="1109" width="3" height="5" fill="#0000ff"/><rect x="253" y="1131" width="3" height="3.3" fill="#0000ff"/><rect x="253" y="1174.8" width="3" height="3.3" fill="#0000ff"/><rect x="250.2" y="1214" width="2.6" height="5" fill="#f4ecff"/><rect x="247.5" y="1028" width="2.6" height="8" fill="#f6f0ff"/>
<line x1="293.5" y1="797.2" x2="293.5" y2="1376.5" stroke="#808080" stroke-width="2.1" stroke-dasharray="2.22 3.67" stroke-dashoffset="-1"/>
<line x1="346.8" y1="797.2" x2="346.8" y2="1376.5" stroke="#808080" stroke-width="2.1" stroke-dasharray="2.22 3.67" stroke-dashoffset="-1"/>
<line x1="400.1" y1="797.2" x2="400.1" y2="1376.5" stroke="#808080" stroke-width="2.1" stroke-dasharray="2.22 3.67" stroke-dashoffset="-1"/>
<line x1="453.4" y1="797.2" x2="453.4" y2="1376.5" stroke="#808080" stroke-width="4" stroke-dasharray="4.17 6.88" stroke-dashoffset="-2"/>
<line x1="506.7" y1="797.2" x2="506.7" y2="1376.5" stroke="#808080" stroke-width="2.1" stroke-dasharray="2.22 3.67" stroke-dashoffset="-1"/>
<line x1="560" y1="797.2" x2="560" y2="1376.5" stroke="#808080" stroke-width="2.1" stroke-dasharray="2.22 3.67" stroke-dashoffset="-1"/>
<line x1="613.3" y1="797.2" x2="613.3" y2="1376.5" stroke="#808080" stroke-width="2.1" stroke-dasharray="2.22 3.67" stroke-dashoffset="-1"/>
<line x1="666.6" y1="797.2" x2="666.6" y2="1376.5" stroke="#808080" stroke-width="4" stroke-dasharray="4.17 6.88" stroke-dashoffset="-2"/>
<line x1="719.9" y1="797.2" x2="719.9" y2="1376.5" stroke="#808080" stroke-width="2.1" stroke-dasharray="2.22 3.67" stroke-dashoffset="-1"/>
<line x1="773.2" y1="797.2" x2="773.2" y2="1376.5" stroke="#808080" stroke-width="2.1" stroke-dasharray="2.22 3.67" stroke-dashoffset="-1"/>
<line x1="826.5" y1="797.2" x2="826.5" y2="1376.5" stroke="#808080" stroke-width="2.1" stroke-dasharray="2.22 3.67" stroke-dashoffset="-1"/>
<line x1="879.8" y1="797.2" x2="879.8" y2="1376.5" stroke="#808080" stroke-width="4" stroke-dasharray="4.17 6.88" stroke-dashoffset="-2"/>
<line x1="933.1" y1="797.2" x2="933.1" y2="1376.5" stroke="#808080" stroke-width="2.1" stroke-dasharray="2.22 3.67" stroke-dashoffset="-1"/>
<line x1="986.4" y1="797.2" x2="986.4" y2="1376.5" stroke="#808080" stroke-width="2.1" stroke-dasharray="2.22 3.67" stroke-dashoffset="-1"/>
<line x1="1039.7" y1="797.2" x2="1039.7" y2="1376.5" stroke="#808080" stroke-width="2.1" stroke-dasharray="2.22 3.67" stroke-dashoffset="-1"/>
<line x1="240.2" y1="797.2" x2="240.2" y2="806.9" stroke="#000" stroke-width="2.2"/>
<line x1="240.2" y1="1376.5" x2="240.2" y2="1366.8" stroke="#000" stroke-width="2.2"/>
<line x1="293.5" y1="797.2" x2="293.5" y2="802.8" stroke="#000" stroke-width="2.2"/>
<line x1="293.5" y1="1376.5" x2="293.5" y2="1370.9" stroke="#000" stroke-width="2.2"/>
<line x1="346.8" y1="797.2" x2="346.8" y2="802.8" stroke="#000" stroke-width="2.2"/>
<line x1="346.8" y1="1376.5" x2="346.8" y2="1370.9" stroke="#000" stroke-width="2.2"/>
<line x1="400.1" y1="797.2" x2="400.1" y2="802.8" stroke="#000" stroke-width="2.2"/>
<line x1="400.1" y1="1376.5" x2="400.1" y2="1370.9" stroke="#000" stroke-width="2.2"/>
<line x1="453.4" y1="797.2" x2="453.4" y2="806.9" stroke="#000" stroke-width="2.2"/>
<line x1="453.4" y1="1376.5" x2="453.4" y2="1366.8" stroke="#000" stroke-width="2.2"/>
<line x1="506.7" y1="797.2" x2="506.7" y2="802.8" stroke="#000" stroke-width="2.2"/>
<line x1="506.7" y1="1376.5" x2="506.7" y2="1370.9" stroke="#000" stroke-width="2.2"/>
<line x1="560" y1="797.2" x2="560" y2="802.8" stroke="#000" stroke-width="2.2"/>
<line x1="560" y1="1376.5" x2="560" y2="1370.9" stroke="#000" stroke-width="2.2"/>
<line x1="613.3" y1="797.2" x2="613.3" y2="802.8" stroke="#000" stroke-width="2.2"/>
<line x1="613.3" y1="1376.5" x2="613.3" y2="1370.9" stroke="#000" stroke-width="2.2"/>
<line x1="666.6" y1="797.2" x2="666.6" y2="806.9" stroke="#000" stroke-width="2.2"/>
<line x1="666.6" y1="1376.5" x2="666.6" y2="1366.8" stroke="#000" stroke-width="2.2"/>
<line x1="719.9" y1="797.2" x2="719.9" y2="802.8" stroke="#000" stroke-width="2.2"/>
<line x1="719.9" y1="1376.5" x2="719.9" y2="1370.9" stroke="#000" stroke-width="2.2"/>
<line x1="773.2" y1="797.2" x2="773.2" y2="802.8" stroke="#000" stroke-width="2.2"/>
<line x1="773.2" y1="1376.5" x2="773.2" y2="1370.9" stroke="#000" stroke-width="2.2"/>
<line x1="826.5" y1="797.2" x2="826.5" y2="802.8" stroke="#000" stroke-width="2.2"/>
<line x1="826.5" y1="1376.5" x2="826.5" y2="1370.9" stroke="#000" stroke-width="2.2"/>
<line x1="879.8" y1="797.2" x2="879.8" y2="806.9" stroke="#000" stroke-width="2.2"/>
<line x1="879.8" y1="1376.5" x2="879.8" y2="1366.8" stroke="#000" stroke-width="2.2"/>
<line x1="933.1" y1="797.2" x2="933.1" y2="802.8" stroke="#000" stroke-width="2.2"/>
<line x1="933.1" y1="1376.5" x2="933.1" y2="1370.9" stroke="#000" stroke-width="2.2"/>
<line x1="986.4" y1="797.2" x2="986.4" y2="802.8" stroke="#000" stroke-width="2.2"/>
<line x1="986.4" y1="1376.5" x2="986.4" y2="1370.9" stroke="#000" stroke-width="2.2"/>
<line x1="1039.7" y1="797.2" x2="1039.7" y2="802.8" stroke="#000" stroke-width="2.2"/>
<line x1="1039.7" y1="1376.5" x2="1039.7" y2="1370.9" stroke="#000" stroke-width="2.2"/>
<line x1="1093" y1="797.2" x2="1093" y2="806.9" stroke="#000" stroke-width="2.2"/>
<line x1="1093" y1="1376.5" x2="1093" y2="1366.8" stroke="#000" stroke-width="2.2"/>
<line x1="240.2" y1="1350.58" x2="245.8" y2="1350.58" stroke="#000" stroke-width="2.2"/>
<line x1="1093" y1="1350.58" x2="1087.4" y2="1350.58" stroke="#000" stroke-width="2.2"/>
<line x1="240.2" y1="1322.89" x2="245.8" y2="1322.89" stroke="#000" stroke-width="2.2"/>
<line x1="1093" y1="1322.89" x2="1087.4" y2="1322.89" stroke="#000" stroke-width="2.2"/>
<line x1="240.2" y1="1295.2" x2="245.8" y2="1295.2" stroke="#000" stroke-width="2.2"/>
<line x1="1093" y1="1295.2" x2="1087.4" y2="1295.2" stroke="#000" stroke-width="2.2"/>
<line x1="240.2" y1="1267.52" x2="245.8" y2="1267.52" stroke="#000" stroke-width="2.2"/>
<line x1="1093" y1="1267.52" x2="1087.4" y2="1267.52" stroke="#000" stroke-width="2.2"/>
<line x1="240.2" y1="1239.83" x2="249.9" y2="1239.83" stroke="#000" stroke-width="2.2"/>
<line x1="1093" y1="1239.83" x2="1083.3" y2="1239.83" stroke="#000" stroke-width="2.2"/>
<line x1="240.2" y1="1212.14" x2="245.8" y2="1212.14" stroke="#000" stroke-width="2.2"/>
<line x1="1093" y1="1212.14" x2="1087.4" y2="1212.14" stroke="#000" stroke-width="2.2"/>
<line x1="240.2" y1="1184.45" x2="245.8" y2="1184.45" stroke="#000" stroke-width="2.2"/>
<line x1="1093" y1="1184.45" x2="1087.4" y2="1184.45" stroke="#000" stroke-width="2.2"/>
<line x1="240.2" y1="1156.76" x2="245.8" y2="1156.76" stroke="#000" stroke-width="2.2"/>
<line x1="1093" y1="1156.76" x2="1087.4" y2="1156.76" stroke="#000" stroke-width="2.2"/>
<line x1="240.2" y1="1129.08" x2="245.8" y2="1129.08" stroke="#000" stroke-width="2.2"/>
<line x1="1093" y1="1129.08" x2="1087.4" y2="1129.08" stroke="#000" stroke-width="2.2"/>
<line x1="240.2" y1="1101.39" x2="249.9" y2="1101.39" stroke="#000" stroke-width="2.2"/>
<line x1="1093" y1="1101.39" x2="1083.3" y2="1101.39" stroke="#000" stroke-width="2.2"/>
<line x1="240.2" y1="1073.7" x2="245.8" y2="1073.7" stroke="#000" stroke-width="2.2"/>
<line x1="1093" y1="1073.7" x2="1087.4" y2="1073.7" stroke="#000" stroke-width="2.2"/>
<line x1="240.2" y1="1046.01" x2="245.8" y2="1046.01" stroke="#000" stroke-width="2.2"/>
<line x1="1093" y1="1046.01" x2="1087.4" y2="1046.01" stroke="#000" stroke-width="2.2"/>
<line x1="240.2" y1="1018.32" x2="245.8" y2="1018.32" stroke="#000" stroke-width="2.2"/>
<line x1="1093" y1="1018.32" x2="1087.4" y2="1018.32" stroke="#000" stroke-width="2.2"/>
<line x1="240.2" y1="990.64" x2="245.8" y2="990.64" stroke="#000" stroke-width="2.2"/>
<line x1="1093" y1="990.64" x2="1087.4" y2="990.64" stroke="#000" stroke-width="2.2"/>
<line x1="240.2" y1="962.95" x2="249.9" y2="962.95" stroke="#000" stroke-width="2.2"/>
<line x1="1093" y1="962.95" x2="1083.3" y2="962.95" stroke="#000" stroke-width="2.2"/>
<line x1="240.2" y1="935.26" x2="245.8" y2="935.26" stroke="#000" stroke-width="2.2"/>
<line x1="1093" y1="935.26" x2="1087.4" y2="935.26" stroke="#000" stroke-width="2.2"/>
<line x1="240.2" y1="907.57" x2="245.8" y2="907.57" stroke="#000" stroke-width="2.2"/>
<line x1="1093" y1="907.57" x2="1087.4" y2="907.57" stroke="#000" stroke-width="2.2"/>
<line x1="240.2" y1="879.88" x2="245.8" y2="879.88" stroke="#000" stroke-width="2.2"/>
<line x1="1093" y1="879.88" x2="1087.4" y2="879.88" stroke="#000" stroke-width="2.2"/>
<line x1="240.2" y1="852.2" x2="245.8" y2="852.2" stroke="#000" stroke-width="2.2"/>
<line x1="1093" y1="852.2" x2="1087.4" y2="852.2" stroke="#000" stroke-width="2.2"/>
<line x1="240.2" y1="824.51" x2="249.9" y2="824.51" stroke="#000" stroke-width="2.2"/>
<line x1="1093" y1="824.51" x2="1083.3" y2="824.51" stroke="#000" stroke-width="2.2"/>
<line x1="240.2" y1="1375.5" x2="249.9" y2="1375.5" stroke="#000" stroke-width="2.2"/>
<line x1="1093" y1="1375.5" x2="1083.3" y2="1375.5" stroke="#000" stroke-width="2.2"/>
<rect x="240.2" y="797.2" width="852.8" height="579.3" fill="none" stroke="#000" stroke-width="2.4"/>
<text x="229.9" y="1386" font-size="27.78" text-anchor="end" fill="#000">1</text>
<text x="229.9" y="1250.33" font-size="27.78" text-anchor="end" fill="#000">50</text>
<text x="229.9" y="1111.89" font-size="27.78" text-anchor="end" fill="#000">100</text>
<text x="229.9" y="973.45" font-size="27.78" text-anchor="end" fill="#000">150</text>
<text x="229.9" y="835.01" font-size="27.78" text-anchor="end" fill="#000">200</text>
<text x="128" y="1086.85" font-size="27.78" text-anchor="middle" fill="#000" transform="rotate(-90 128 1086.85)">TOA Bin</text>
</g>
<text x="169.8" y="1422" font-size="27.78" text-anchor="end" fill="#000">UT</text>
<text x="251" y="1421.3" font-size="27.78" text-anchor="middle" fill="#000">04:36:32</text>
<text x="460.5" y="1421.3" font-size="27.78" text-anchor="middle" fill="#000">04:39:04</text>
<text x="670" y="1421.3" font-size="27.78" text-anchor="middle" fill="#000">04:41:36</text>
<text x="879.2" y="1421.3" font-size="27.78" text-anchor="middle" fill="#000">04:44:08</text>
<text x="1088.6" y="1421.3" font-size="27.78" text-anchor="middle" fill="#000">04:46:40</text>
<text x="169.8" y="1454.1" font-size="27.78" text-anchor="end" fill="#000">ALT (km)</text>
<text x="251" y="1454.07" font-size="27.78" text-anchor="middle" fill="#000">1325.9</text>
<text x="460.5" y="1454.07" font-size="27.78" text-anchor="middle" fill="#000">1377.8</text>
<text x="670" y="1454.07" font-size="27.78" text-anchor="middle" fill="#000">1419.3</text>
<text x="879.2" y="1454.07" font-size="27.78" text-anchor="middle" fill="#000">1449.8</text>
<text x="1088.6" y="1454.07" font-size="27.78" text-anchor="middle" fill="#000">1469.0</text>
<text x="169.8" y="1486.2" font-size="27.78" text-anchor="end" fill="#000">LAT (deg)</text>
<text x="251" y="1486.84" font-size="27.78" text-anchor="middle" fill="#000">73.1</text>
<text x="460.5" y="1486.84" font-size="27.78" text-anchor="middle" fill="#000">66.2</text>
<text x="670" y="1486.84" font-size="27.78" text-anchor="middle" fill="#000">58.9</text>
<text x="879.2" y="1486.84" font-size="27.78" text-anchor="middle" fill="#000">51.5</text>
<text x="1088.6" y="1486.84" font-size="27.78" text-anchor="middle" fill="#000">44.1</text>
<text x="169.8" y="1518.3" font-size="27.78" text-anchor="end" fill="#000">LON (deg)</text>
<text x="251" y="1519.61" font-size="27.78" text-anchor="middle" fill="#000">-111.4</text>
<text x="460.5" y="1519.61" font-size="27.78" text-anchor="middle" fill="#000">-101.6</text>
<text x="670" y="1519.61" font-size="27.78" text-anchor="middle" fill="#000">-96.4</text>
<text x="879.2" y="1519.61" font-size="27.78" text-anchor="middle" fill="#000">-93.3</text>
<text x="1088.6" y="1519.61" font-size="27.78" text-anchor="middle" fill="#000">-91.3</text>
<text x="169.8" y="1550.4" font-size="27.78" text-anchor="end" fill="#000">MLAT (deg)</text>
<text x="251" y="1552.38" font-size="27.78" text-anchor="middle" fill="#000">78.9</text>
<text x="460.5" y="1552.38" font-size="27.78" text-anchor="middle" fill="#000">73.9</text>
<text x="670" y="1552.38" font-size="27.78" text-anchor="middle" fill="#000">67.4</text>
<text x="879.2" y="1552.38" font-size="27.78" text-anchor="middle" fill="#000">60.3</text>
<text x="1088.6" y="1552.38" font-size="27.78" text-anchor="middle" fill="#000">53.1</text>
<text x="169.8" y="1582.5" font-size="27.78" text-anchor="end" fill="#000">MLT (hrs)</text>
<text x="251" y="1585.15" font-size="27.78" text-anchor="middle" fill="#000">19.1</text>
<text x="460.5" y="1585.15" font-size="27.78" text-anchor="middle" fill="#000">20.9</text>
<text x="670" y="1585.15" font-size="27.78" text-anchor="middle" fill="#000">21.8</text>
<text x="879.2" y="1585.15" font-size="27.78" text-anchor="middle" fill="#000">22.3</text>
<text x="1088.6" y="1585.15" font-size="27.78" text-anchor="middle" fill="#000">22.6</text>
<g id="axC">
<rect x="1544.4" y="192.2" width="783.2" height="245.6" fill="#c5c9c7" stroke="none" stroke-width="0"/>
<line x1="1593.35" y1="192.2" x2="1593.35" y2="437.8" stroke="#808080" stroke-width="2.1" stroke-dasharray="2.22 3.67" stroke-dashoffset="-1"/>
<line x1="1642.3" y1="192.2" x2="1642.3" y2="437.8" stroke="#808080" stroke-width="2.1" stroke-dasharray="2.22 3.67" stroke-dashoffset="-1"/>
<line x1="1691.25" y1="192.2" x2="1691.25" y2="437.8" stroke="#808080" stroke-width="2.1" stroke-dasharray="2.22 3.67" stroke-dashoffset="-1"/>
<line x1="1740.2" y1="192.2" x2="1740.2" y2="437.8" stroke="#808080" stroke-width="4" stroke-dasharray="4.17 6.88" stroke-dashoffset="-2"/>
<line x1="1789.15" y1="192.2" x2="1789.15" y2="437.8" stroke="#808080" stroke-width="2.1" stroke-dasharray="2.22 3.67" stroke-dashoffset="-1"/>
<line x1="1838.1" y1="192.2" x2="1838.1" y2="437.8" stroke="#808080" stroke-width="2.1" stroke-dasharray="2.22 3.67" stroke-dashoffset="-1"/>
<line x1="1887.05" y1="192.2" x2="1887.05" y2="437.8" stroke="#808080" stroke-width="2.1" stroke-dasharray="2.22 3.67" stroke-dashoffset="-1"/>
<line x1="1936" y1="192.2" x2="1936" y2="437.8" stroke="#808080" stroke-width="4" stroke-dasharray="4.17 6.88" stroke-dashoffset="-2"/>
<line x1="1984.95" y1="192.2" x2="1984.95" y2="437.8" stroke="#808080" stroke-width="2.1" stroke-dasharray="2.22 3.67" stroke-dashoffset="-1"/>
<line x1="2033.9" y1="192.2" x2="2033.9" y2="437.8" stroke="#808080" stroke-width="2.1" stroke-dasharray="2.22 3.67" stroke-dashoffset="-1"/>
<line x1="2082.85" y1="192.2" x2="2082.85" y2="437.8" stroke="#808080" stroke-width="2.1" stroke-dasharray="2.22 3.67" stroke-dashoffset="-1"/>
<line x1="2131.8" y1="192.2" x2="2131.8" y2="437.8" stroke="#808080" stroke-width="4" stroke-dasharray="4.17 6.88" stroke-dashoffset="-2"/>
<line x1="2180.75" y1="192.2" x2="2180.75" y2="437.8" stroke="#808080" stroke-width="2.1" stroke-dasharray="2.22 3.67" stroke-dashoffset="-1"/>
<line x1="2229.7" y1="192.2" x2="2229.7" y2="437.8" stroke="#808080" stroke-width="2.1" stroke-dasharray="2.22 3.67" stroke-dashoffset="-1"/>
<line x1="2278.65" y1="192.2" x2="2278.65" y2="437.8" stroke="#808080" stroke-width="2.1" stroke-dasharray="2.22 3.67" stroke-dashoffset="-1"/>
<path d="M1544.4 314.7 1820.5 314.7 1822.3 316.5 1824.7 322.1 1827 318 1829.3 315.2 1833 315.8 1837.4 317 1841 315.3 1844.2 314.3 1852 314.6 1859.5 315.1 1864 316.2 1868 317 1872 316.3 1878 315.9 1885 315.4 1892.7 315.4 1895.5 318.3 1897.8 321.3 1899.5 322.3 1902 321.2 1904.3 318 1906.3 315.1 1909.7 315.7 1913 315 1916.5 314.2 1940.3 313.8 1955 314.6 1990 314.8 2008.7 315.3 2014 314.6 2041 314.2 2075 314 2083.5 314.3 2087 315.7 2090.8 317 2095.5 315.3 2099.7 315.5 2104 314.6 2109 314 2120 313.8 2126 314.8 2150 314.8 2167 314.8 2174.7 315.9 2181.5 314.8 2218 314.7 2220.6 316.4 2224 315.1 2229 316.2 2231.5 318 2233.8 320.2 2236.7 315.5 2243.5 315.1 2252 314.7 2327.6 314.7" fill="none" stroke="#000" stroke-width="2.5" stroke-linejoin="round"/>
<path d="M1544.4 315.7 1547.7 315.9 1550 316.6 1552.3 317 1555.2 316.4" fill="none" stroke="#0000ff" stroke-width="2.6" stroke-linejoin="round"/>
<path d="M1564.2 316.2 1566.5 315.4 1569.5 314.4 1581 315.1 1595 315.5 1597.5 315 1599.5 314.2 1606.5 313.4 1616.7 314.4 1623.1 315.1 1628.2 316.7 1639.7 317 1642 316.5 1645.4 315.5 1652.4 316.7 1656.3 316.4 1658.8 314.2 1664 314.2 1667.1 315.7 1672 315 1676.7 314.2 1680 314.6 1683 316.4 1695.8 317 1740.5 317.6 1766 318 1785.1 317.2 1800 317 1821.3 317.4 1822.5 325.7 1824.8 352.9 1827.2 330 1829.8 315.1 1834.4 317.6 1837.4 326.1 1840.4 318.9 1845.1 314 1850.2 315.3 1854.4 315.1 1857.8 317.4 1860.5 316.5 1862.9 321.5 1865.5 322.1 1868.2 325.7 1873.1 321.5 1876.1 322.6 1881.6 318.5 1886.3 318.9 1891.4 317.2 1893.5 319.8 1896 336 1898.6 352.8 1902 349.5 1904.2 332 1906.3 315.5 1909.3 319.9 1912.2 318.1 1916.9 312.5 1923.3 313.6 1927.6 312.1 1935.2 312.3 1940.3 311.1 1950.5 313 1954.9 315.7 1959.9 313 1965.4 317.6 1970.1 313.1 1979.4 313.1 1983.2 315.9 1987.1 313 1994.7 312.8 2002.8 314.8 2006.2 313.4 2008.7 318.2 2014.7 312.8 2025.7 311.1 2037.6 311.7 2042.7 313.8 2054.6 311.1 2067.4 313.1 2072.5 310.4 2076.7 311.4 2080.6 314.7 2083.1 313.1 2086.1 317.2 2090.6 327.4 2093.3 324 2095.9 317.6 2098 320.2 2100.5 319.3 2108.2 311.7 2113.3 310.8 2120.1 310.8 2126.1 314.7 2133.7 314 2136.4 315.9 2139.7 313.8 2147.3 313.1 2157.5 313.6 2161.9 316.4 2164.9 314.2 2170.4 317.2 2174.8 321 2181.5 315.9 2190 314.7 2197.6 316.8 2202.7 317.4 2208.2 315.1 2210.5 318.1 2218 313 2220.7 326.1 2223.1 316.4 2225.7 316.8 2228.2 322.3 2231.2 324.9 2233.8 343.1 2236.3 314.7 2238.9 320.2 2243.5 314.7 2246.3 318.9 2249.1 313.4 2254.2 311.9 2269 312.8 2300 313.2 2327.6 313.4" fill="none" stroke="#0000ff" stroke-width="2.6" stroke-linejoin="round"/>
<line x1="1544.4" y1="192.2" x2="1544.4" y2="201.9" stroke="#000" stroke-width="2.2"/>
<line x1="1544.4" y1="437.8" x2="1544.4" y2="428.1" stroke="#000" stroke-width="2.2"/>
<line x1="1593.35" y1="192.2" x2="1593.35" y2="197.8" stroke="#000" stroke-width="2.2"/>
<line x1="1593.35" y1="437.8" x2="1593.35" y2="432.2" stroke="#000" stroke-width="2.2"/>
<line x1="1642.3" y1="192.2" x2="1642.3" y2="197.8" stroke="#000" stroke-width="2.2"/>
<line x1="1642.3" y1="437.8" x2="1642.3" y2="432.2" stroke="#000" stroke-width="2.2"/>
<line x1="1691.25" y1="192.2" x2="1691.25" y2="197.8" stroke="#000" stroke-width="2.2"/>
<line x1="1691.25" y1="437.8" x2="1691.25" y2="432.2" stroke="#000" stroke-width="2.2"/>
<line x1="1740.2" y1="192.2" x2="1740.2" y2="201.9" stroke="#000" stroke-width="2.2"/>
<line x1="1740.2" y1="437.8" x2="1740.2" y2="428.1" stroke="#000" stroke-width="2.2"/>
<line x1="1789.15" y1="192.2" x2="1789.15" y2="197.8" stroke="#000" stroke-width="2.2"/>
<line x1="1789.15" y1="437.8" x2="1789.15" y2="432.2" stroke="#000" stroke-width="2.2"/>
<line x1="1838.1" y1="192.2" x2="1838.1" y2="197.8" stroke="#000" stroke-width="2.2"/>
<line x1="1838.1" y1="437.8" x2="1838.1" y2="432.2" stroke="#000" stroke-width="2.2"/>
<line x1="1887.05" y1="192.2" x2="1887.05" y2="197.8" stroke="#000" stroke-width="2.2"/>
<line x1="1887.05" y1="437.8" x2="1887.05" y2="432.2" stroke="#000" stroke-width="2.2"/>
<line x1="1936" y1="192.2" x2="1936" y2="201.9" stroke="#000" stroke-width="2.2"/>
<line x1="1936" y1="437.8" x2="1936" y2="428.1" stroke="#000" stroke-width="2.2"/>
<line x1="1984.95" y1="192.2" x2="1984.95" y2="197.8" stroke="#000" stroke-width="2.2"/>
<line x1="1984.95" y1="437.8" x2="1984.95" y2="432.2" stroke="#000" stroke-width="2.2"/>
<line x1="2033.9" y1="192.2" x2="2033.9" y2="197.8" stroke="#000" stroke-width="2.2"/>
<line x1="2033.9" y1="437.8" x2="2033.9" y2="432.2" stroke="#000" stroke-width="2.2"/>
<line x1="2082.85" y1="192.2" x2="2082.85" y2="197.8" stroke="#000" stroke-width="2.2"/>
<line x1="2082.85" y1="437.8" x2="2082.85" y2="432.2" stroke="#000" stroke-width="2.2"/>
<line x1="2131.8" y1="192.2" x2="2131.8" y2="201.9" stroke="#000" stroke-width="2.2"/>
<line x1="2131.8" y1="437.8" x2="2131.8" y2="428.1" stroke="#000" stroke-width="2.2"/>
<line x1="2180.75" y1="192.2" x2="2180.75" y2="197.8" stroke="#000" stroke-width="2.2"/>
<line x1="2180.75" y1="437.8" x2="2180.75" y2="432.2" stroke="#000" stroke-width="2.2"/>
<line x1="2229.7" y1="192.2" x2="2229.7" y2="197.8" stroke="#000" stroke-width="2.2"/>
<line x1="2229.7" y1="437.8" x2="2229.7" y2="432.2" stroke="#000" stroke-width="2.2"/>
<line x1="2278.65" y1="192.2" x2="2278.65" y2="197.8" stroke="#000" stroke-width="2.2"/>
<line x1="2278.65" y1="437.8" x2="2278.65" y2="432.2" stroke="#000" stroke-width="2.2"/>
<line x1="2327.6" y1="192.2" x2="2327.6" y2="201.9" stroke="#000" stroke-width="2.2"/>
<line x1="2327.6" y1="437.8" x2="2327.6" y2="428.1" stroke="#000" stroke-width="2.2"/>
<line x1="1544.4" y1="426.64" x2="1554.1" y2="426.64" stroke="#000" stroke-width="2.2"/>
<line x1="2327.6" y1="426.64" x2="2317.9" y2="426.64" stroke="#000" stroke-width="2.2"/>
<line x1="1544.4" y1="415.47" x2="1550" y2="415.47" stroke="#000" stroke-width="2.2"/>
<line x1="2327.6" y1="415.47" x2="2322" y2="415.47" stroke="#000" stroke-width="2.2"/>
<line x1="1544.4" y1="404.31" x2="1550" y2="404.31" stroke="#000" stroke-width="2.2"/>
<line x1="2327.6" y1="404.31" x2="2322" y2="404.31" stroke="#000" stroke-width="2.2"/>
<line x1="1544.4" y1="393.15" x2="1550" y2="393.15" stroke="#000" stroke-width="2.2"/>
<line x1="2327.6" y1="393.15" x2="2322" y2="393.15" stroke="#000" stroke-width="2.2"/>
<line x1="1544.4" y1="381.98" x2="1550" y2="381.98" stroke="#000" stroke-width="2.2"/>
<line x1="2327.6" y1="381.98" x2="2322" y2="381.98" stroke="#000" stroke-width="2.2"/>
<line x1="1544.4" y1="370.82" x2="1554.1" y2="370.82" stroke="#000" stroke-width="2.2"/>
<line x1="2327.6" y1="370.82" x2="2317.9" y2="370.82" stroke="#000" stroke-width="2.2"/>
<line x1="1544.4" y1="359.65" x2="1550" y2="359.65" stroke="#000" stroke-width="2.2"/>
<line x1="2327.6" y1="359.65" x2="2322" y2="359.65" stroke="#000" stroke-width="2.2"/>
<line x1="1544.4" y1="348.49" x2="1550" y2="348.49" stroke="#000" stroke-width="2.2"/>
<line x1="2327.6" y1="348.49" x2="2322" y2="348.49" stroke="#000" stroke-width="2.2"/>
<line x1="1544.4" y1="337.33" x2="1550" y2="337.33" stroke="#000" stroke-width="2.2"/>
<line x1="2327.6" y1="337.33" x2="2322" y2="337.33" stroke="#000" stroke-width="2.2"/>
<line x1="1544.4" y1="326.16" x2="1550" y2="326.16" stroke="#000" stroke-width="2.2"/>
<line x1="2327.6" y1="326.16" x2="2322" y2="326.16" stroke="#000" stroke-width="2.2"/>
<line x1="1544.4" y1="315" x2="1554.1" y2="315" stroke="#000" stroke-width="2.2"/>
<line x1="2327.6" y1="315" x2="2317.9" y2="315" stroke="#000" stroke-width="2.2"/>
<line x1="1544.4" y1="303.84" x2="1550" y2="303.84" stroke="#000" stroke-width="2.2"/>
<line x1="2327.6" y1="303.84" x2="2322" y2="303.84" stroke="#000" stroke-width="2.2"/>
<line x1="1544.4" y1="292.67" x2="1550" y2="292.67" stroke="#000" stroke-width="2.2"/>
<line x1="2327.6" y1="292.67" x2="2322" y2="292.67" stroke="#000" stroke-width="2.2"/>
<line x1="1544.4" y1="281.51" x2="1550" y2="281.51" stroke="#000" stroke-width="2.2"/>
<line x1="2327.6" y1="281.51" x2="2322" y2="281.51" stroke="#000" stroke-width="2.2"/>
<line x1="1544.4" y1="270.35" x2="1550" y2="270.35" stroke="#000" stroke-width="2.2"/>
<line x1="2327.6" y1="270.35" x2="2322" y2="270.35" stroke="#000" stroke-width="2.2"/>
<line x1="1544.4" y1="259.18" x2="1554.1" y2="259.18" stroke="#000" stroke-width="2.2"/>
<line x1="2327.6" y1="259.18" x2="2317.9" y2="259.18" stroke="#000" stroke-width="2.2"/>
<line x1="1544.4" y1="248.02" x2="1550" y2="248.02" stroke="#000" stroke-width="2.2"/>
<line x1="2327.6" y1="248.02" x2="2322" y2="248.02" stroke="#000" stroke-width="2.2"/>
<line x1="1544.4" y1="236.85" x2="1550" y2="236.85" stroke="#000" stroke-width="2.2"/>
<line x1="2327.6" y1="236.85" x2="2322" y2="236.85" stroke="#000" stroke-width="2.2"/>
<line x1="1544.4" y1="225.69" x2="1550" y2="225.69" stroke="#000" stroke-width="2.2"/>
<line x1="2327.6" y1="225.69" x2="2322" y2="225.69" stroke="#000" stroke-width="2.2"/>
<line x1="1544.4" y1="214.53" x2="1550" y2="214.53" stroke="#000" stroke-width="2.2"/>
<line x1="2327.6" y1="214.53" x2="2322" y2="214.53" stroke="#000" stroke-width="2.2"/>
<line x1="1544.4" y1="203.36" x2="1554.1" y2="203.36" stroke="#000" stroke-width="2.2"/>
<line x1="2327.6" y1="203.36" x2="2317.9" y2="203.36" stroke="#000" stroke-width="2.2"/>
<rect x="1544.4" y="192.2" width="783.2" height="245.6" fill="none" stroke="#000" stroke-width="2.4"/>
<text x="1533.9" y="437.64" font-size="27.78" text-anchor="end" fill="#000">−10</text>
<text x="1533.9" y="381.82" font-size="27.78" text-anchor="end" fill="#000">−5</text>
<text x="1533.9" y="326" font-size="27.78" text-anchor="end" fill="#000">0</text>
<text x="1533.9" y="270.18" font-size="27.78" text-anchor="end" fill="#000">5</text>
<text x="1533.9" y="214.36" font-size="27.78" text-anchor="end" fill="#000">10</text>
<text x="1459" y="315" font-size="27.78" text-anchor="middle" fill="#000" transform="rotate(-90 1459 315)">Current (uA)</text>
<text x="2356.8" y="181" font-size="20.83" text-anchor="start" fill="#0000ff" transform="rotate(90 2356.8 181)">Sensor Surface Current x 5</text>
<text x="2337.3" y="181" font-size="20.83" text-anchor="start" fill="#000" transform="rotate(90 2337.3 181)">Sensor Surface Current</text>
</g>
<g id="axD">
<rect x="1544.4" y="463.3" width="783.2" height="243.7" fill="#c5c9c7" stroke="none" stroke-width="0"/>
<line x1="1593.35" y1="463.3" x2="1593.35" y2="707" stroke="#808080" stroke-width="2.1" stroke-dasharray="2.22 3.67" stroke-dashoffset="-1"/>
<line x1="1642.3" y1="463.3" x2="1642.3" y2="707" stroke="#808080" stroke-width="2.1" stroke-dasharray="2.22 3.67" stroke-dashoffset="-1"/>
<line x1="1691.25" y1="463.3" x2="1691.25" y2="707" stroke="#808080" stroke-width="2.1" stroke-dasharray="2.22 3.67" stroke-dashoffset="-1"/>
<line x1="1740.2" y1="463.3" x2="1740.2" y2="707" stroke="#808080" stroke-width="4" stroke-dasharray="4.17 6.88" stroke-dashoffset="-2"/>
<line x1="1789.15" y1="463.3" x2="1789.15" y2="707" stroke="#808080" stroke-width="2.1" stroke-dasharray="2.22 3.67" stroke-dashoffset="-1"/>
<line x1="1838.1" y1="463.3" x2="1838.1" y2="707" stroke="#808080" stroke-width="2.1" stroke-dasharray="2.22 3.67" stroke-dashoffset="-1"/>
<line x1="1887.05" y1="463.3" x2="1887.05" y2="707" stroke="#808080" stroke-width="2.1" stroke-dasharray="2.22 3.67" stroke-dashoffset="-1"/>
<line x1="1936" y1="463.3" x2="1936" y2="707" stroke="#808080" stroke-width="4" stroke-dasharray="4.17 6.88" stroke-dashoffset="-2"/>
<line x1="1984.95" y1="463.3" x2="1984.95" y2="707" stroke="#808080" stroke-width="2.1" stroke-dasharray="2.22 3.67" stroke-dashoffset="-1"/>
<line x1="2033.9" y1="463.3" x2="2033.9" y2="707" stroke="#808080" stroke-width="2.1" stroke-dasharray="2.22 3.67" stroke-dashoffset="-1"/>
<line x1="2082.85" y1="463.3" x2="2082.85" y2="707" stroke="#808080" stroke-width="2.1" stroke-dasharray="2.22 3.67" stroke-dashoffset="-1"/>
<line x1="2131.8" y1="463.3" x2="2131.8" y2="707" stroke="#808080" stroke-width="4" stroke-dasharray="4.17 6.88" stroke-dashoffset="-2"/>
<line x1="2180.75" y1="463.3" x2="2180.75" y2="707" stroke="#808080" stroke-width="2.1" stroke-dasharray="2.22 3.67" stroke-dashoffset="-1"/>
<line x1="2229.7" y1="463.3" x2="2229.7" y2="707" stroke="#808080" stroke-width="2.1" stroke-dasharray="2.22 3.67" stroke-dashoffset="-1"/>
<line x1="2278.65" y1="463.3" x2="2278.65" y2="707" stroke="#808080" stroke-width="2.1" stroke-dasharray="2.22 3.67" stroke-dashoffset="-1"/>
<path d="M1553 705.9 1554.9 633.6" fill="none" stroke="#000" stroke-width="2.2" stroke-linejoin="round"/><path d="M1564.4 663.9 1568.2 705.9" fill="none" stroke="#000" stroke-width="2.2" stroke-linejoin="round"/><path d="M1544.4 705.8 1551.3 705.8 1554.1 603.9" fill="none" stroke="#0000ff" stroke-width="2.6" stroke-linejoin="round"/><path d="M1565.5 647.9 1569.1 705.6 2327.6 705.6" fill="none" stroke="#0000ff" stroke-width="3.0" stroke-linejoin="round"/>
<line x1="1544.4" y1="463.3" x2="1544.4" y2="473" stroke="#000" stroke-width="2.2"/>
<line x1="1544.4" y1="707" x2="1544.4" y2="697.3" stroke="#000" stroke-width="2.2"/>
<line x1="1593.35" y1="463.3" x2="1593.35" y2="468.9" stroke="#000" stroke-width="2.2"/>
<line x1="1593.35" y1="707" x2="1593.35" y2="701.4" stroke="#000" stroke-width="2.2"/>
<line x1="1642.3" y1="463.3" x2="1642.3" y2="468.9" stroke="#000" stroke-width="2.2"/>
<line x1="1642.3" y1="707" x2="1642.3" y2="701.4" stroke="#000" stroke-width="2.2"/>
<line x1="1691.25" y1="463.3" x2="1691.25" y2="468.9" stroke="#000" stroke-width="2.2"/>
<line x1="1691.25" y1="707" x2="1691.25" y2="701.4" stroke="#000" stroke-width="2.2"/>
<line x1="1740.2" y1="463.3" x2="1740.2" y2="473" stroke="#000" stroke-width="2.2"/>
<line x1="1740.2" y1="707" x2="1740.2" y2="697.3" stroke="#000" stroke-width="2.2"/>
<line x1="1789.15" y1="463.3" x2="1789.15" y2="468.9" stroke="#000" stroke-width="2.2"/>
<line x1="1789.15" y1="707" x2="1789.15" y2="701.4" stroke="#000" stroke-width="2.2"/>
<line x1="1838.1" y1="463.3" x2="1838.1" y2="468.9" stroke="#000" stroke-width="2.2"/>
<line x1="1838.1" y1="707" x2="1838.1" y2="701.4" stroke="#000" stroke-width="2.2"/>
<line x1="1887.05" y1="463.3" x2="1887.05" y2="468.9" stroke="#000" stroke-width="2.2"/>
<line x1="1887.05" y1="707" x2="1887.05" y2="701.4" stroke="#000" stroke-width="2.2"/>
<line x1="1936" y1="463.3" x2="1936" y2="473" stroke="#000" stroke-width="2.2"/>
<line x1="1936" y1="707" x2="1936" y2="697.3" stroke="#000" stroke-width="2.2"/>
<line x1="1984.95" y1="463.3" x2="1984.95" y2="468.9" stroke="#000" stroke-width="2.2"/>
<line x1="1984.95" y1="707" x2="1984.95" y2="701.4" stroke="#000" stroke-width="2.2"/>
<line x1="2033.9" y1="463.3" x2="2033.9" y2="468.9" stroke="#000" stroke-width="2.2"/>
<line x1="2033.9" y1="707" x2="2033.9" y2="701.4" stroke="#000" stroke-width="2.2"/>
<line x1="2082.85" y1="463.3" x2="2082.85" y2="468.9" stroke="#000" stroke-width="2.2"/>
<line x1="2082.85" y1="707" x2="2082.85" y2="701.4" stroke="#000" stroke-width="2.2"/>
<line x1="2131.8" y1="463.3" x2="2131.8" y2="473" stroke="#000" stroke-width="2.2"/>
<line x1="2131.8" y1="707" x2="2131.8" y2="697.3" stroke="#000" stroke-width="2.2"/>
<line x1="2180.75" y1="463.3" x2="2180.75" y2="468.9" stroke="#000" stroke-width="2.2"/>
<line x1="2180.75" y1="707" x2="2180.75" y2="701.4" stroke="#000" stroke-width="2.2"/>
<line x1="2229.7" y1="463.3" x2="2229.7" y2="468.9" stroke="#000" stroke-width="2.2"/>
<line x1="2229.7" y1="707" x2="2229.7" y2="701.4" stroke="#000" stroke-width="2.2"/>
<line x1="2278.65" y1="463.3" x2="2278.65" y2="468.9" stroke="#000" stroke-width="2.2"/>
<line x1="2278.65" y1="707" x2="2278.65" y2="701.4" stroke="#000" stroke-width="2.2"/>
<line x1="2327.6" y1="463.3" x2="2327.6" y2="473" stroke="#000" stroke-width="2.2"/>
<line x1="2327.6" y1="707" x2="2327.6" y2="697.3" stroke="#000" stroke-width="2.2"/>
<line x1="1544.4" y1="707" x2="1554.1" y2="707" stroke="#000" stroke-width="2.2"/>
<line x1="2327.6" y1="707" x2="2317.9" y2="707" stroke="#000" stroke-width="2.2"/>
<line x1="1544.4" y1="694.82" x2="1550" y2="694.82" stroke="#000" stroke-width="2.2"/>
<line x1="2327.6" y1="694.82" x2="2322" y2="694.82" stroke="#000" stroke-width="2.2"/>
<line x1="1544.4" y1="682.63" x2="1550" y2="682.63" stroke="#000" stroke-width="2.2"/>
<line x1="2327.6" y1="682.63" x2="2322" y2="682.63" stroke="#000" stroke-width="2.2"/>
<line x1="1544.4" y1="670.44" x2="1550" y2="670.44" stroke="#000" stroke-width="2.2"/>
<line x1="2327.6" y1="670.44" x2="2322" y2="670.44" stroke="#000" stroke-width="2.2"/>
<line x1="1544.4" y1="658.26" x2="1550" y2="658.26" stroke="#000" stroke-width="2.2"/>
<line x1="2327.6" y1="658.26" x2="2322" y2="658.26" stroke="#000" stroke-width="2.2"/>
<line x1="1544.4" y1="646.08" x2="1554.1" y2="646.08" stroke="#000" stroke-width="2.2"/>
<line x1="2327.6" y1="646.08" x2="2317.9" y2="646.08" stroke="#000" stroke-width="2.2"/>
<line x1="1544.4" y1="633.89" x2="1550" y2="633.89" stroke="#000" stroke-width="2.2"/>
<line x1="2327.6" y1="633.89" x2="2322" y2="633.89" stroke="#000" stroke-width="2.2"/>
<line x1="1544.4" y1="621.71" x2="1550" y2="621.71" stroke="#000" stroke-width="2.2"/>
<line x1="2327.6" y1="621.71" x2="2322" y2="621.71" stroke="#000" stroke-width="2.2"/>
<line x1="1544.4" y1="609.52" x2="1550" y2="609.52" stroke="#000" stroke-width="2.2"/>
<line x1="2327.6" y1="609.52" x2="2322" y2="609.52" stroke="#000" stroke-width="2.2"/>
<line x1="1544.4" y1="597.34" x2="1550" y2="597.34" stroke="#000" stroke-width="2.2"/>
<line x1="2327.6" y1="597.34" x2="2322" y2="597.34" stroke="#000" stroke-width="2.2"/>
<line x1="1544.4" y1="585.15" x2="1554.1" y2="585.15" stroke="#000" stroke-width="2.2"/>
<line x1="2327.6" y1="585.15" x2="2317.9" y2="585.15" stroke="#000" stroke-width="2.2"/>
<line x1="1544.4" y1="572.97" x2="1550" y2="572.97" stroke="#000" stroke-width="2.2"/>
<line x1="2327.6" y1="572.97" x2="2322" y2="572.97" stroke="#000" stroke-width="2.2"/>
<line x1="1544.4" y1="560.78" x2="1550" y2="560.78" stroke="#000" stroke-width="2.2"/>
<line x1="2327.6" y1="560.78" x2="2322" y2="560.78" stroke="#000" stroke-width="2.2"/>
<line x1="1544.4" y1="548.6" x2="1550" y2="548.6" stroke="#000" stroke-width="2.2"/>
<line x1="2327.6" y1="548.6" x2="2322" y2="548.6" stroke="#000" stroke-width="2.2"/>
<line x1="1544.4" y1="536.41" x2="1550" y2="536.41" stroke="#000" stroke-width="2.2"/>
<line x1="2327.6" y1="536.41" x2="2322" y2="536.41" stroke="#000" stroke-width="2.2"/>
<line x1="1544.4" y1="524.23" x2="1554.1" y2="524.23" stroke="#000" stroke-width="2.2"/>
<line x1="2327.6" y1="524.23" x2="2317.9" y2="524.23" stroke="#000" stroke-width="2.2"/>
<line x1="1544.4" y1="512.04" x2="1550" y2="512.04" stroke="#000" stroke-width="2.2"/>
<line x1="2327.6" y1="512.04" x2="2322" y2="512.04" stroke="#000" stroke-width="2.2"/>
<line x1="1544.4" y1="499.86" x2="1550" y2="499.86" stroke="#000" stroke-width="2.2"/>
<line x1="2327.6" y1="499.86" x2="2322" y2="499.86" stroke="#000" stroke-width="2.2"/>
<line x1="1544.4" y1="487.67" x2="1550" y2="487.67" stroke="#000" stroke-width="2.2"/>
<line x1="2327.6" y1="487.67" x2="2322" y2="487.67" stroke="#000" stroke-width="2.2"/>
<line x1="1544.4" y1="475.49" x2="1550" y2="475.49" stroke="#000" stroke-width="2.2"/>
<line x1="2327.6" y1="475.49" x2="2322" y2="475.49" stroke="#000" stroke-width="2.2"/>
<line x1="1544.4" y1="463.3" x2="1554.1" y2="463.3" stroke="#000" stroke-width="2.2"/>
<line x1="2327.6" y1="463.3" x2="2317.9" y2="463.3" stroke="#000" stroke-width="2.2"/>
<rect x="1544.4" y="463.3" width="783.2" height="243.7" fill="none" stroke="#000" stroke-width="2.4"/>
<text x="1533.9" y="717.3" font-size="27.78" text-anchor="end" fill="#000">0.00</text>
<text x="1533.9" y="656.38" font-size="27.78" text-anchor="end" fill="#000">0.25</text>
<text x="1533.9" y="595.45" font-size="27.78" text-anchor="end" fill="#000">0.50</text>
<text x="1533.9" y="534.52" font-size="27.78" text-anchor="end" fill="#000">0.75</text>
<text x="1533.9" y="473.6" font-size="27.78" text-anchor="end" fill="#000">1.00</text>
<text x="1431" y="598.65" font-size="27.78" text-anchor="middle" fill="#000" transform="rotate(-90 1431 598.65)">Counts Per</text>
<text x="1459" y="598.15" font-size="27.78" text-anchor="middle" transform="rotate(-90 1459 598.15)">Second (x10<tspan font-size="19.4" dy="-10">3</tspan><tspan dy="10">)</tspan></text>
<text x="2361" y="488.3" font-size="22.2" text-anchor="start" fill="#0000ff" transform="rotate(90 2361 488.3)">Detect Counter</text>
<text x="2337.8" y="488.3" font-size="22.2" text-anchor="start" fill="#000" transform="rotate(90 2337.8 488.3)">Hit Counter</text>
<text x="1544.6" y="752.6" font-size="27.78" text-anchor="middle" fill="#000">04:36:32</text>
<text x="1740.4" y="752.6" font-size="27.78" text-anchor="middle" fill="#000">04:39:04</text>
<text x="1936.2" y="752.6" font-size="27.78" text-anchor="middle" fill="#000">04:41:36</text>
<text x="2132" y="752.6" font-size="27.78" text-anchor="middle" fill="#000">04:44:08</text>
<text x="2327.8" y="752.6" font-size="27.78" text-anchor="middle" fill="#000">04:46:40</text>
</g>
<rect x="1607" y="153.9" width="56" height="19.1" fill="#c5c9c7" stroke="none" stroke-width="0"/>
<text x="1685" y="172.7" font-size="27.78" text-anchor="start" fill="#000">S/C in Eclipse</text>
<g stroke="#808080" fill="#fff"><rect x="1927.4" y="154.1" width="56.2" height="19.2" stroke-width="1.2"/><path d="M1927.6 173.2 L1945.6 154.2 M1959.4 173.2 L1978.4 154.2" fill="none" stroke-width="2.3"/></g>
<text x="2005" y="172.7" font-size="27.78" text-anchor="start" fill="#000">IRM in S/C Shadow</text>
<g id="map">
<defs><clipPath id="mapc"><path d="M2142.1 1267.9L2191.6 1262.6L2211.7 1257.4L2226.9 1252.1L2239.4 1246.9L2250.3 1241.6L2259.9 1236.4L2268.6 1231.1L2276.5 1225.9L2283.8 1220.6L2290.6 1215.4L2296.8 1210.1L2302.7 1204.8L2308.2 1199.6L2313.3 1194.3L2318.1 1189.1L2322.7 1183.8L2327 1178.6L2331.1 1173.3L2334.9 1168.1L2338.5 1162.8L2341.9 1157.6L2345.1 1152.3L2348.1 1147L2351 1141.8L2353.7 1136.5L2356.2 1131.3L2358.6 1126L2360.8 1120.8L2362.9 1115.5L2364.8 1110.3L2366.6 1105L2368.2 1099.8L2369.7 1094.5L2371.1 1089.2L2372.4 1084L2373.5 1078.7L2374.5 1073.5L2375.4 1068.2L2376.2 1063L2376.8 1057.7L2377.4 1052.5L2377.8 1047.2L2378.1 1042L2378.2 1036.7L2378.3 1031.5L2378.2 1026.2L2378.1 1020.9L2377.8 1015.7L2377.4 1010.4L2376.8 1005.2L2376.2 999.9L2375.4 994.7L2374.5 989.4L2373.5 984.2L2372.4 978.9L2371.1 973.7L2369.7 968.4L2368.2 963.1L2366.6 957.9L2364.8 952.6L2362.9 947.4L2360.8 942.1L2358.6 936.9L2356.2 931.6L2353.7 926.4L2351 921.1L2348.1 915.9L2345.1 910.6L2341.9 905.3L2338.5 900.1L2334.9 894.8L2331.1 889.6L2327 884.3L2322.7 879.1L2318.1 873.8L2313.3 868.6L2308.2 863.3L2302.7 858.1L2296.8 852.8L2290.6 847.5L2283.8 842.3L2276.5 837L2268.6 831.8L2259.9 826.5L2250.3 821.3L2239.4 816L2226.9 810.8L2211.7 805.5L2191.6 800.3L2142.1 795L1669.6 795L1620.1 800.3L1600 805.5L1584.8 810.8L1572.3 816L1561.4 821.3L1551.8 826.5L1543.1 831.8L1535.2 837L1527.9 842.3L1521.1 847.5L1514.9 852.8L1509 858.1L1503.5 863.3L1498.4 868.6L1493.6 873.8L1489 879.1L1484.7 884.3L1480.6 889.6L1476.8 894.8L1473.2 900.1L1469.8 905.3L1466.6 910.6L1463.6 915.9L1460.7 921.1L1458 926.4L1455.5 931.6L1453.1 936.9L1450.9 942.1L1448.8 947.4L1446.9 952.6L1445.1 957.9L1443.5 963.1L1442 968.4L1440.6 973.7L1439.3 978.9L1438.2 984.2L1437.2 989.4L1436.3 994.7L1435.5 999.9L1434.9 1005.2L1434.3 1010.4L1433.9 1015.7L1433.6 1020.9L1433.5 1026.2L1433.4 1031.5L1433.5 1036.7L1433.6 1042L1433.9 1047.2L1434.3 1052.5L1434.9 1057.7L1435.5 1063L1436.3 1068.2L1437.2 1073.5L1438.2 1078.7L1439.3 1084L1440.6 1089.2L1442 1094.5L1443.5 1099.8L1445.1 1105L1446.9 1110.3L1448.8 1115.5L1450.9 1120.8L1453.1 1126L1455.5 1131.3L1458 1136.5L1460.7 1141.8L1463.6 1147L1466.6 1152.3L1469.8 1157.6L1473.2 1162.8L1476.8 1168.1L1480.6 1173.3L1484.7 1178.6L1489 1183.8L1493.6 1189.1L1498.4 1194.3L1503.5 1199.6L1509 1204.8L1514.9 1210.1L1521.1 1215.4L1527.9 1220.6L1535.2 1225.9L1543.1 1231.1L1551.8 1236.4L1561.4 1241.6L1572.3 1246.9L1584.8 1252.1L1600 1257.4L1620.1 1262.6L1669.6 1267.9Z"/></clipPath><path id="landp" d="M1534.4 859.2l10.6 -7.3 11 -3.2 19.1 -4.8 11.5 2.1 16.9 2.5 12.1 0.8 17.4 -2.7 4.6 2.1 10.5 0.3 8 3.7 10.6 0.3 5.5 -1.6 5.6 1.3 10.8 0 7.4 -1.3 4.9 -2.7 6.5 -6.7 2.7 4 1.5 4.6 5.3 2.1 5.5 -4 7.8 -0.5 -0.2 3.2 -3.6 4 -5.3 1.9 -5.3 -0.5 -0.9 4 -4.4 2.1 -5.8 0.5 -9.4 5.4 -5.9 5.3 -1.6 3.4 2.7 4.5 5.8 0 6 2.7 4 1.8 6.1 0.6 -1.6 5.5 2 2.7 1.7 2.1 2.6 -0.8 2.1 -6.6 5.3 -5.3 3.3 -4 -3 -3.4 3.5 -3.2 1.3 -6.1 9 0 7.8 3.4 -0.6 5.3 5.1 1.9 5.6 -3.2 1.9 -2.1 3.5 7.4 1.2 4 6.1 4 3.8 3.9 0.1 2.7 -3.5 1.6 -7.8 3.1 -9.6 -0.2 -6.1 0.2 -5.6 3.2 -7.3 5.2 6.9 -3.4 9 -2.3 1.5 1 -2.5 3.4 0.5 3.5 7 1.3 1 1 -6.5 1.9 -6 2.8 -0.7 -2.3 4.8 -2.9 -6.4 1.3 -5.5 2.6 -4.7 2.7 -0.7 1.8 1.7 1.6 -3.9 0.8 -6.6 2.1 -1.1 2.8 -3.8 2.6 -2 4 0 3.9 -3.7 2.6 -2.8 1.6 -4.2 2.3 -4.4 3.1 -1.6 3.4 1.5 5.2 0.3 5.3 -1.3 3.3 -2 0 -1.2 -2.8 -1.7 -3.9 0.2 -3.2 -2.6 -2.6 -3.9 0.6 -4.9 -1.3 -5.2 0.2 0.1 2.6 -4.3 -0.2 -6.1 -1.3 -4.1 1.3 -5.7 3.3 -1.9 5.3 -1.9 5.2 -0.6 4.4 0.9 4.4 2.7 3.6 3.6 2.6 6.6 -1 3.3 -1.8 1.5 -4.5 6.4 -1.5 2.6 0.2 0.2 2.6 -2.9 5.2 -1.8 2.6 -1.7 3.9 2.1 0.5 5.2 -0.2 5.2 0.5 1.9 1.8 -1.2 5.2 -0.8 5.2 1.7 2.6 2.5 2 2.6 1.1 3.2 -1.6 4.7 0.3 1.7 1.8 -1.7 3.4 -1.5 -2.6 -3 -1.6 -1.7 1.8 -0.3 2.4 -3.6 -1.6 -3.1 -1.3 -1.8 -1.5 -3.3 -2.6 -1.9 -2.4 -2.5 -2.8 -1.9 -2.6 -2.3 -0.8 -3.8 -1.3 -3.9 -0.5 -3.5 -3.9 -3.8 -1.8 -5.3 1.3 -5 -1.6 -3.8 -1.8 -4.9 -2.6 -4.8 -2.6 -3.5 -3.1 1 -3.4 -1.3 -3.8 -3.2 -3.9 -3.3 -3.2 -0.6 -3.3 -3.4 -2.7 -2.6 -3.3 -1.2 -5 -3.5 -1.3 -0.2 3.1 2.7 5.2 2.8 5.3 1.6 5.2 2 3.3 -1.9 0.6 -3.8 -4.7 -0.6 -3.9 -4.3 -3.9 1.2 -2.4 -3.1 -4.1 -1.7 -5.8 -2.8 -3.9 -4.9 -1.3 -1.5 -5.2 -0.7 -3.4 -1.8 -4.5 -0.4 -2.6 1.7 -3.9 2.5 -5.3 2.3 -5.7 0.7 -5.8 4 0.2 0.3 2.1 1.3 -3.9 -2 -2.7 -5.9 -2.6 -0.5 -3.9 -1.9 -5.3 -2.1 -2.7 -1.2 -4 -2.2 -3.9 -4.9 -1.4 -4.3 -2.1 -6.5 -0.5 -5.3 -2.1 -6.3 0.8 -5.4 2.6 -5.2 0.8 4.3 -4.2 -6 3.4 -5.8 3.2 -8.2 3.4 -6.9 3.2 -8.5 2.1 -6.5 0.8 6.6 -2.6 7.3 -2.1 7.2 -3.5 3.1 -2.6 -5.8 0 -3.6 -1.4 2.1 -2.6 -5.3 -0.5 -1.2 -2.7 5.3 -3.5 5.4 -1 5.9 -1.6 2.2 -2.4 -7.2 0.5 -3.8 -1.9zM1771 856.2l-8.7 8.6 -5.9 4 -5.1 -1.4 -5.2 -1.3 -3.1 -3.5 -10 0 0.3 -3.2 10 -2.6 4 -4.1 -6.3 -2.6 -3.6 -3.5 -12.9 0.2 -5.1 -2.1 -1.6 -4 10.6 -3.5 10 0.5 4.9 2.2 6.9 2.6 7.1 2.7 3.2 2.2 2 5.3 8.2 1.4zM1658.4 844.2l0.8 -3.5 9.5 -1.4 10 0.6 9.2 -1.1 2.8 4.6 -10.6 5.9 -11.7 1.3 -7.6 -1.3 -4.4 -1.4zM1642.3 842l9.2 -5.4 9.8 -0.5 4 2.4 -9.3 3.5 -10.3 2.2zM1725.5 829.9l12.1 -2.7 8 2.7 7.8 -2.7 8.8 -4.1 14.5 -4.1 14.7 -4.6 -12.9 -2.1 -18.2 0 -21.2 2.7 -8 4 7.1 2.8 -9.4 4zM1711.3 832.6l6.5 2.1 13.9 0.6 10.6 -0.6 1.4 -2.1 -14.2 -2.7 -16 0zM1665.4 833.9l11 1.4 13.4 -1.4 2.9 -3.2 -15.3 -0.8 -9.4 1.3zM1720.2 824.5l11 -1.4 7.5 -4.1 -8.1 -1.3 -8.5 2.7zM1691.7 842l9.5 1.4 10.3 -2.7 2.8 -4.1 -10.3 0 -9.3 1.4zM1713.6 858.9l6.7 0 5.6 4.5 -5.6 2.7 -7.2 -1.6zM1762 906.9l7.6 2.1 7.2 0.5 1.2 -2.6 -1.1 -4.5 -4.4 -1.9 -0.4 -3.9 -3.6 2.1 -3.8 4.5zM1598.5 898.4l6.9 2.1 2.2 4.3 -4.8 -1.1 -3.4 -3.2zM1851.6 859.4l5.9 -2.4 8.7 0.6 7.7 0 2 3.2 -3.5 1.8 -8.1 2.4 -8.8 -1 1.4 -2.7zM1686.1 974l5.5 -2.8 7.8 -0.3 7.3 3.9 6.9 3.6 -8.6 0.8 -1.1 -2.1 -6.2 -2.8 -5 -1.1 -4 1.1zM1712.7 982.8l3.9 -3.6 7.8 0.3 3.9 3.1 -5.6 1 -3.9 0.3zM1702.5 983.1l5.2 0.5 -2.5 1.1zM1731.4 982.8l4.1 0.3 -1.2 1.3 -3 -0.3zM1703.4 1008.5l1.3 1.5 3.3 -3.8 1.2 -3.4 3.2 -1 5.3 -2.6 1.8 1.8 -1.5 2.6 4.9 -3.4 3.8 3.1 6.5 0 5.2 0.8 5.3 -1 2.5 2.3 2.5 3.3 3.8 3.9 3.9 2.6 5.2 0.3 5.3 1 3.9 2.6 3.8 7 0 4.7 4 1.2 2.6 0.6 7.9 3.3 3.9 1.3 7.9 0.8 5.3 3.1 7.1 3.1 1.4 6 -1.2 5.1 -4.4 5.2 -3.8 3.9 -1 6.5 -0.3 6.5 -3.1 6.5 -1 3.9 -5 2.5 -5.1 1.9 -6.2 2.8 -2.5 4.4 0.2 5.3 -3.9 6.5 -4.5 5.2 -2.2 3.4 -3.6 1.5 -5.1 -1 -3.8 -1.3 3.9 6 -0.4 4.4 -5.6 2.4 -5.4 0.3 0.8 4.7 -6.9 0.5 3.2 3.9 -2.7 2.7 0.3 3.9 -4.3 2.6 4.6 4 -2.7 3.9 -2.7 4 2.5 4.7 0.5 1.9 4.6 3.9 3.9 1.1 -3.1 1.6 -4.7 0 -6.7 -2.7 -5.9 -3.9 -3.5 -4 -4.2 -6.6 -1.1 -6 2 -4.5 0 -7.9 -2.4 -5.2 0 -6.6 1.1 -5.2 1.2 -6.5 -1 -7.8 0.8 -7.9 0 -9.1 -0.4 -9 -0.9 -4.5 -4.4 -3.3 -8.1 -3.9 -3.7 -4.4 -2.7 -4.7 -3.7 -6.5 -3.7 -6.4 -3.2 -2.6 -0.6 -3.9 3 -3.1 -1.3 -3.4 -1.1 -2.6 2.4 -3.8 2.6 -2.6 1.9 -2.6 2.6 -3.4 -0.4 -4.4 0.4 -3.9 -1.3 -0.7zM1760.1 1164.9l7.1 -0.5 -0.6 2.6 -4.8 -0.2zM1892 937.5l8.8 1.9 5 -1.6 7.6 -2.6 10 -0.5 7.5 -0.8 2.6 1.3 -1.6 6 1.8 2.6 5.1 1.6 5.9 1.5 7 4 5 -0.6 0.4 -3.9 7.1 -0.5 5.2 2.6 10.2 1.8 5 -1.3 3.4 0.6 0.7 3.3 2.9 5.2 2.9 5.3 2.8 5.2 4.3 6.4 1 6.5 3.3 3.9 2.9 5.2 4 3.9 5.4 3.9 0.8 2.6 4.6 2.6 7.7 -1.8 8.4 -1.6 -0.9 4.7 -3.2 7.7 -3.8 6.5 -5.2 5.2 -5.3 3.9 -5.2 5.1 -4 3.9 -2.6 5.2 -1.9 5.2 1.7 5.2 2 5.1 0.3 6.5 -0.2 5.2 -5.4 6 -5.4 3.8 -4 3.2 0.5 5.2 0.2 5.1 -6.6 3.9 -0.7 3.9 -2.4 5.3 -4.1 5.2 -5.4 4.7 -5.2 2.6 -6.4 0.5 -5.1 0.5 -5.1 1.6 -4 -1.6 -0.8 -4.4 -2.3 -6.5 -2.4 -5.2 -2.4 -5.3 -1.1 -7.8 -2.5 -6.4 -3.8 -6.5 -0.4 -5.2 1.9 -6.5 3.2 -6.5 -1.8 -6.4 -2.1 -6.5 -1.8 -3.9 -5.2 -5.2 -1.3 -4.6 1.3 -4.4 0.5 -5.2 -1.8 -3.4 -5.3 -0.2 -3.9 -2.9 -2.7 -2.1 -6.5 0 -5.3 1.6 -5.2 2.3 -5.2 -1 -9.2 2.1 -4 -1.6 -5.2 -4.4 -3.9 -2.1 -2.1 -3.8 -3.6 -4.7 -4.7 -3.9 -2 -6.2 2.2 -4.7 0.9 -6.5 -2 -5.2 2.8 -6.4 4 -6.5 4 -4.5 5.1 -2.8 3.2 -3.2 0.6 -5.2 5.4 -4.4 3.8 -4.7zM2034.7 1061.8l2 7.8 -2.2 6.5 -4.4 9.1 -3.3 9.8 -5.3 1.8 -2.8 -3.9 -0.9 -5.1 2.9 -5.2 -0.5 -6.5 4.1 -4.4 5.4 -3.4zM1892 937.3l-2 -2.1 -3 -0.8 -3.2 0 0.1 -3.7 -1.8 -0.7 1.9 -5.8 -0.1 -5.2 2.3 -1.9 6.1 0.5 6.2 0.3 3.2 0 1.2 -2.9 0.3 -3.9 -3.4 -3.4 -4.9 -1.6 -0.4 -1.6 4.1 -0.8 3.4 0.3 0 -2.4 4.3 0.3 3.2 -1.9 0.4 -2.1 4.3 -1.3 2.4 -2.6 1.1 -2.2 4.7 -0.8 3.5 -0.5 0.4 -3.2 -1.3 -3.9 0.6 -1.9 4.6 -1.3 -0.3 3.2 -0.6 2.6 2.1 4 2.8 -0.5 4.7 0.5 5.8 -1.3 4.7 -0.6 3.1 0.8 2.6 -2.9 0.1 -4 2.8 -1.8 4.4 1.3 -0.1 -2.9 -2.4 -2.4 5.6 -1.1 4.6 -0.2 4.5 -0.8 -3.7 -1.3 -5.6 0.2 -6.7 1.3 -3.7 -2.3 -0.8 -3.2 1.2 -3.2 5 -4.3 1.5 -1.9 -4.1 -0.8 -3.2 0.8 -1.8 3.2 -4.2 3 -3 3.2 -0.4 3.4 3.6 1.9 -3.6 3.4 -0.8 4.5 -1.5 2.4 -3.4 1.4 -3 0.5 -0.9 -2.4 -2.3 -3.7 -2 -3.5 -1.7 -0.8 -4 3 -3.4 0.5 -3.6 -2.1 -1.2 -4.5 -0.1 -4 4.4 -2.7 4.4 -1.9 3.2 -2.1 3.2 -3.2 1.9 -3.5 3 -3.5 4.1 -1.8 5.1 -2.7 6.2 -1.4 7.1 -1.6 6.5 0.8 5.7 1.6 -1.9 1.4 6.6 0.8 6.6 0.5 9.6 3.8 3.4 3.2 -5.6 1.3 -8.1 -1.6 -4.4 0 3.8 2.4 1.1 3.5 5.4 1.3 1.9 -1.8 4.5 0.2 -0.3 -3.2 4.7 -1.6 3.4 0.6 -0.7 -4.3 -2.1 -2.2 5.7 1.1 2.1 3.5 2.1 -0.3 2.5 -2.7 7.9 -2.1 3.8 1.3 6.2 -0.8 5.5 -2.4 0.6 2.7 7.1 -2.1 7.2 1.6 2.3 -2.2 -3.9 -1.3 -0.9 -3.5 1.5 -4 7.3 0 3.2 4.8 1.3 5.4 4.7 2.6 -1.9 -2.6 -1.2 -6.7 -0.4 -2.7 6.7 0.8 3.2 -3.5 10.8 -0.8 -0.2 -3.3 8.2 -2.7 11.4 -0.8 9.1 -3.8 7.9 2.7 13.9 1.9 6.5 6 -7.3 0 7.4 1.3 10.4 0 11.1 0.8 9.6 1.4 8.9 4 4.9 -1.6 6.3 0 7.4 0 0.1 -3 12.7 1.1 10.7 2.2 5.9 1.6 12.7 0 8.8 3.2 7.5 0 7.5 0 5.2 -1.1 4.7 3.2 8 -2.4 11.5 2.4 11.4 10.5 -2 1.3 2.9 5.3 -8.2 2.2 -1.8 4.5 -10.1 0.2 -1.8 5.1 -3.1 0.5 5.8 4.8 -0.1 3.2 -1.6 4.7 -2.3 2.7 -2.3 2.6 -5.3 -5.3 -5.2 -7.9 0 -4 1.9 -6.6 3.6 -1.3 0 -5.4 -7.4 1.9 -7.3 0.8 -0.5 5.3 -7 1.3 -12.3 -1 -7.7 0.5 -2.8 4.5 -1.8 6.6 -4.5 1.1 5.9 2.1 8.8 2.1 3.3 2.7 1 5.2 1.4 5.3 -2.4 5.3 -3.8 5.2 -4.9 3.2 -4.6 0.8 -2 2.6 -3 3.9 -0.6 1.9 6.1 4.7 1.9 5.2 -3 1.8 -3.4 1.1 -1.8 -4.2 0.5 -2.6 -5.4 -2.6 -1.3 -4 -2.8 -0.8 -5.5 2.1 -0.1 -3.9 -2.7 -0.8 -3.6 4.2 -2.8 0.5 2.5 2.7 5.4 1.3 5.2 0.5 -0.8 1.3 -4.4 2.1 -1.3 2.6 4.4 3.9 4.5 4.7 1.6 4.4 -0.2 4.7 -2.9 4.5 -1.8 3.9 -4.4 3.9 -6 2.6 -3.7 1.2 -6.1 2.1 -1 2.4 -3 -3.2 -5 1.3 -2.6 3.9 2.5 5.2 5.1 3.9 3 6.5 0.8 5.2 -5.9 2.6 -4.9 4.6 -0.8 -3.9 -4.8 -2 -1.6 -3.1 -4 -1.3 -2.2 -1.8 -1.5 4.9 -0.1 5.2 3.4 5.1 4 3.1 3.9 4.7 0.4 5.2 1.8 2.8 -3.1 -1 -4.5 -2.9 -2.3 -5.4 -1.4 -3.9 -4.1 -3.9 -0.3 -5.1 -0.1 -5.2 -2.6 -6.5 -1.3 -5.2 -5.1 1.3 -3.1 0 0 -5.2 -3.1 -4.6 -4.5 -4.5 -1.6 -2.5 -2.5 0.7 -3.7 1.1 -5.1 0.7 -0.8 3.9 -3.8 1.3 -4.7 5.2 -3.6 3.1 -3.2 2.1 0.4 6.5 -0.8 3.9 -1.1 3.1 -0.7 2.6 -2 1 -1.7 2.1 -2.8 -2.3 -2.1 -6.5 -2.9 -3.9 -1.6 -5.2 -2.4 -3.9 -2.1 -6.5 -1 -5.2 -1.8 -0.5 -3 1.1 -5.1 -3.9 2.5 -1.3 -4.1 -1.8 -3.4 -3.4 -2.3 -1.6 -5 0.5 -6.5 0 -6.5 -0.5 -5.2 -0.8 -2.1 -3.3 -4.5 0.7 -5.2 -0.7 -4.1 -2.7 -3 -3.9 -4 -2 -2.5 0.7 1.7 3.9 4.2 4.7 0.8 3.2 2.5 -1.3 1.3 3.3 3.7 1.3 3.8 -0.2 3.5 -4.4 1.6 3.9 5.9 2.6 3.1 2.6 -2.9 5.1 -1.8 3.9 -3 2.6 -3.7 2.6 -6.9 2.6 -8.4 4.4 -9.7 3.4 -4.4 0.8 -2.4 -6 -0.6 -3.9 -4.2 -6.5 -5 -5.2 -2.2 -6.4 -4.1 -5.2 -4.3 -6 -2.1 -1.1 0.6 -3.4 -1.8 3.9 -2.7 -1.3 -1.7 -3.9 -1 -3.3 4.8 0 1.8 -4 1.6 -4.4 0.2 -3.9 0.3 -2.1 -4.3 0 -4.8 1.8 -4.9 -1.8 -4 0.8 -3.9 -1.3 -2.7 -4 -0.2 -2.6 -1.4 -1.8 -0.1 -1 -5 -0.6 -2.4 1.3 1.5 3.4 -1.1 2.7 2.5 0.7 -2.3 3.2 -2.5 -0.5 -1.9 -2.9 -1 -3.2 -3.9 -3.9 -0.2 -3.9 -5.1 -2.6 -6.4 -4 -3 -2.6 -3.2 0.5 -0.1 2.6 3.3 2.7 4.6 3.4 1.7 0.5 6 4.2 -1.3 0.8 -2.5 -1.6 -1.1 2.6 1.8 1.3 -2.4 2.7 -1.3 0 0.6 -4 -2.1 -1.8 -2.5 -1.6 -4.3 -1.8 -3.8 -2.6 -1.8 -2.7 -3.8 -2.3 -3.1 1.6 -3.7 1.8 -3.7 -0.8 -3.2 0.5 0.1 3.2 -3 1.8 -3.7 2.1 -2 2.6 1 1.9 -2 2.6 -3.3 2.6 -6.2 0.3zM1517.6 850.3l5.8 4.6 6.8 1.9 1.6 1 -9.1 4.3 -5.9 -0.8 -2.8 -1.6 -7.8 1.1zM2235.3 943.8l-0.4 2.1 2.9 3.9 2.3 -0.8 0.1 -3.9 2.2 -1.3 3.6 -0.8 3.2 0.8 2 -2.6 4.1 -0.5 3.5 -0.8 1.2 -2.6 -1.4 -5.2 0.3 -4 -2.4 -4.7 -2.9 0.8 0.6 3.9 -1.4 5.3 -3.1 1.8 -1.6 2.6 -4.8 0.8 -3.6 0.5 -3 2.6zM2252.4 922.4l2.8 -2.1 5 1.3 4 -3.4 -3.8 -1.9 -7.4 -3.9 0.5 3.9 -2 2.1zM2252.4 911.1l2.6 -2.1 -4.1 -5.8 3.4 -0.5 -6.9 -7.4 -4.2 -6.1 -1.1 2.1 5.1 9.2zM1892.6 900.3l4.8 -0.5 6.1 -1.1 5.5 -1.3 0.9 -4 -3.3 -0.8 -1.2 -2.6 -3.1 -2.7 -1.1 -2.6 -2.4 0 2.4 -4.2 -3.5 -0.3 1.2 -2.4 -4.6 0 -2.4 2.9 1.1 4 1.6 2.6 3.5 0.3 0.7 2.4 -0.5 1.8 -3.1 0 0.4 2.7 -2.2 1.3 4.1 0.8 -1.9 0.8zM1882 896.3l4.8 -0.2 4.3 -1.6 0.5 -3.2 1.1 -3.2 -4 -1.6 -2.9 2.2 -3.6 0.8 1.1 2.6 -1.3 2.6zM1927.1 821.8l6.6 6.7 6.1 0.8 7.1 -4.8 10.6 -4.1 -13.7 -1.4 -14.9 1.9zM2014.5 843.4l3.8 1.8 9.2 -1 -5.2 -4.9 2.4 -4 6.8 -2.7 11.1 -3.5 -5.6 -1.1 -10.6 2.4 -7.5 3.5 -2.3 4.1zM2090.3 823.1l12.3 2.7 8.4 -1.3 -7.6 -5.5 -14.8 -1.3zM2185 833.9l13.9 3.3 3.5 -4.1 9.1 0.8 -17.5 -2.7zM1997.4 819.9l13.7 0.5 12 -2.2 -9 -2.1 -14 1.6zM2115.2 1005.6l3.6 3.1 1.4 3.9 -2 2.1 -2.6 0.5 -1 -5.2zM2217.1 965.4l2.8 1.1 -1.5 7.2 -2.6 -2.5zM2188.4 978.9l5.2 0 -0.8 3.9 -3.8 0.6 -1.2 -2.6zM2218.8 982.8l4.4 0.6 0.3 5.9 -0.8 4.4 6.9 3.4 -1.2 0.5 -4.2 -2.6 -3.8 -1 -2.1 -4.7zM2225.6 1012.6l3.7 -4.1 5 -2.9 2.9 4.4 -1.1 3.9 -1.2 1.8 -4 -1.3zM2224.8 1001l5.2 0 4 1.3 -1.1 2.6 -5.1 1.3 -1.5 -2.6zM2212.8 1008.7l5.6 -5.9 0.6 1.3 -5.1 5.4zM2191.9 1026.9l2.6 -0.8 3.9 -2.6 3.9 -1 5.2 -4.7 4.5 -4.9 2.7 2.3 3.2 2.1 -2.5 2.3 -0.4 6 2.7 2.6 -3.4 1.3 -0.1 5.1 -2.7 5.2 -1.3 1.3 -4 -0.5 -6.5 -1.3 -4.4 -1.3 -2 -6zM2155.7 1016.3l5.8 1 6.7 5.7 4 2.6 5.3 5.2 2.6 5.1 3.9 2.6 -0.7 7.3 -3.4 -0.3 -5.7 -4.4 -4.6 -6.5 -3.9 -5.1 -5.3 -6.5zM2181.8 1048.3l4.1 -2 4.3 1.5 6.1 -0.5 4.9 1.6 4.6 2 -0.6 2.1 -8.6 -0.8 -7.8 -1.3 -4.4 -1zM2220.3 1028.7l2.6 -1.3 5.8 0.8 5.2 -1.3 -1.8 2.8 -7.3 -0.2 -3.2 3.6 3.1 0.2 4.8 -0.5 -4 3.1 2.5 6.5 -3.5 0.8 -1.7 -5.2 -1.5 7 -2.1 0 -0.3 -5.2 -1.3 -2.1 2.7 -5.7zM2249.7 1032.8l3.9 -1 4 1 2.5 6.5 6.6 -4.4 9.2 2.6 9.1 3.1 3.7 4.4 3.9 1.3 0.9 5.2 6.1 5.9 -6.5 -0.2 -4.8 -5.2 -5.2 -1.3 -5.5 3.9 -6.3 -3.1 -4 1 1.5 -3.6 -1.1 -3.9 -7.7 -2.9 -5.2 -1 -2.6 -3.1zM2209.7 1052.5l7.8 0 10.5 -0.3 3.8 2.6 6.7 -2.3 -5.6 4.1 -4 0.8 -9 -1.3 -2.6 -0.5 -5.1 -1.6zM2240.5 1025.6l2.6 1.3 0.6 3.9 -1.9 2 -1 -3.3zM2241.7 1038.5l6.6 0 0.7 1.6 -6.8 -0.3zM2295.2 1045.2l5.3 -0.5 4.6 -3.1 -0.6 2.9 -4.1 2.3 -5.2 -0.3zM2199.2 1087.8l0 10.3 -0.1 10.5 -0.1 7.8 -2.7 3.4 7.1 1.8 5.7 -2.6 8.9 0 7.5 -4.4 8.1 -1.6 6.5 -0.5 5.4 3.4 2.2 5.2 6.5 -4.7 0 3.9 0.4 2.6 2.2 2.6 1.6 4.5 5.7 1.5 4.2 -1.3 2.6 1.9 5.4 -3.2 5.7 -1.5 4.1 -5.8 3.5 -5.2 6 -6.5 3.1 -6.5 0.5 -6.6 -3.9 -5.2 -3 -3.8 -2.8 -5.2 -4 -2.6 -1 -6.5 0.1 -4.4 -3.7 -1.3 -0.6 -6 -1.8 -3.1 -2.7 5.7 -1.3 6.5 -2.6 5.2 -4.7 0 -3.3 -3.9 -4.1 -2.6 1 -3.9 2.5 -3.4 -4.7 -0.5 -6.4 -1.3 -4.1 2.1 -3 3.1 -1.7 3.9 -3.9 -0.5 -2.3 -2.1 -5.6 2.6 -3 3.9 -4.1 1.3 -1.3 3.9 -3.5 2.6 -5.4 1.3 -6.8 1.8 -5.6 2.6zM2265.1 1136.5l4.1 1.1 4.6 -0.6 -1.7 3.4 -3.7 3.5 -3.2 0 -0.6 -3.2zM2341.8 1120.3l2.9 3.9 1.7 2.1 0.3 2.1 5.6 0.3 -3.1 3.9 -2.5 1 -3.5 3.7 -3.3 1.6 -0.8 -0.8 2.1 -3.4 -2.1 -1.9 3.6 -3.4 1 -3.9zM2335.1 1136l2.5 2.1 -3.8 3.9 -3.1 2.6 -4.4 1.4 -3.3 3.9 -4.4 2.1 -2.8 -0.3 -3.6 -1.3 2.6 -2.6 4.6 -2.6 5.5 -2.7 4.6 -2.6 3 -2.6zM2330.8 1083.1l5.7 3.4 0.8 2 -4.6 -2zM1937.1 932.1l7.5 -0.6 -0.6 4 -6.6 -2.1zM1926.4 924.2l3.5 0 -0.1 4.7 -2.7 0.5zM1927.3 920l2 -1 -0.2 3.9 -1.5 -0.3zM1965.3 938.3l6.8 0.8 -0.2 0.8 -6.6 -0.5zM1987.3 939.6l5.4 -1.3 -1.1 1.9 -3.5 0.7z"/><clipPath id="landc"><use href="#landp"/></clipPath><filter id="mb8" x="-50%" y="-50%" width="200%" height="200%"><feGaussianBlur stdDeviation="5"/></filter><filter id="mb1" x="-5%" y="-5%" width="110%" height="110%"><feGaussianBlur stdDeviation="0.5"/></filter><filter id="mb2" x="-30%" y="-30%" width="160%" height="160%"><feGaussianBlur stdDeviation="2"/></filter><filter id="mb14" x="-50%" y="-50%" width="200%" height="200%"><feGaussianBlur stdDeviation="16"/></filter></defs>
<g clip-path="url(#mapc)">
<rect x="1428.4" y="789.3" width="954.9" height="482.9" fill="#77abd3"/>
<g filter="url(#mb14)"><ellipse cx="1905.8" cy="804.1" rx="339.9" ry="26.3" fill="#8abbdc" opacity="0.9"/><ellipse cx="1821.9" cy="842" rx="42" ry="13.1" fill="#84b6da" opacity="0.7"/><ellipse cx="1523.4" cy="952.9" rx="89.2" ry="47.3" fill="#6fa2cb" opacity="0.55"/><ellipse cx="2330.4" cy="966" rx="77.2" ry="47.3" fill="#6a9dc7" opacity="0.6"/><ellipse cx="2271.7" cy="999.7" rx="41.8" ry="31.5" fill="#6799c4" opacity="0.6"/><ellipse cx="1765.1" cy="958.1" rx="41" ry="31.5" fill="#6d9fc9" opacity="0.6"/><ellipse cx="1841.9" cy="1103.4" rx="35.8" ry="36.8" fill="#6fa1ca" opacity="0.5"/><ellipse cx="1918.3" cy="1134.7" rx="34.8" ry="26.3" fill="#6fa1ca" opacity="0.45"/><ellipse cx="2109" cy="1113.8" rx="55.9" ry="31.5" fill="#6d9fc9" opacity="0.55"/><ellipse cx="2063.2" cy="1043.7" rx="26.2" ry="26.3" fill="#71a3cc" opacity="0.45"/><ellipse cx="1607.3" cy="1134.7" rx="99.5" ry="36.8" fill="#73a6ce" opacity="0.5"/><ellipse cx="1643.4" cy="1030.8" rx="78.7" ry="26.3" fill="#7eb1d7" opacity="0.5"/><ellipse cx="1827.2" cy="1017.8" rx="26.2" ry="21" fill="#73a5cd" opacity="0.4"/><ellipse cx="1905.8" cy="1192.7" rx="452.7" ry="13.1" fill="#7fb2d8" opacity="0.7"/><ellipse cx="2184.4" cy="1155.7" rx="72.7" ry="21" fill="#6fa1ca" opacity="0.45"/><ellipse cx="1795.3" cy="1145.2" rx="27" ry="15.8" fill="#6595c2" opacity="0.7"/><ellipse cx="1750.8" cy="973.7" rx="25.8" ry="15.8" fill="#6c9dc8" opacity="0.5"/><ellipse cx="2294.6" cy="1082.6" rx="25.9" ry="21" fill="#7db0d6" opacity="0.4"/></g>
<g filter="url(#mb1)">
<use href="#landp" fill="#e8eab7"/>
<g clip-path="url(#landc)"><g filter="url(#mb8)"><ellipse cx="1690.4" cy="850.1" rx="107.7" ry="13.1" fill="#dfe0d6"/><ellipse cx="1581.3" cy="851.4" rx="30.3" ry="6.6" fill="#dfe0d6"/><ellipse cx="1714.4" cy="831.2" rx="90.7" ry="19.7" fill="#e9e9e5"/><ellipse cx="1748.3" cy="855.4" rx="21.9" ry="10.5" fill="#e6e6e0"/><ellipse cx="1740.5" cy="875.4" rx="18.4" ry="10.5" fill="#dfe0d6"/><ellipse cx="1693.5" cy="863.4" rx="22.4" ry="7.9" fill="#dfe0d6" opacity="0.9"/><ellipse cx="2115.8" cy="842" rx="157.5" ry="11.8" fill="#dfe0d6"/><ellipse cx="2280.6" cy="858.1" rx="30.9" ry="10.5" fill="#dfe0d6"/><ellipse cx="2028.1" cy="833.9" rx="28.5" ry="13.1" fill="#ececea"/><ellipse cx="1864.8" cy="860.8" rx="13.3" ry="5.8" fill="#ececea"/><ellipse cx="1939.1" cy="824.5" rx="23.5" ry="7.9" fill="#ececea"/><ellipse cx="2009.5" cy="817.7" rx="22.6" ry="5.3" fill="#ececea"/><ellipse cx="2098.6" cy="821.8" rx="15.4" ry="6.6" fill="#ececea"/><ellipse cx="2197.3" cy="833.9" rx="18.3" ry="5.3" fill="#ececea"/><ellipse cx="1924" cy="868.8" rx="6.8" ry="13.1" fill="#d9dcd0" opacity="0.9" transform="rotate(-25 1924 868.8)"/><ellipse cx="1550.6" cy="860.8" rx="17.8" ry="15.8" fill="#dfe0d6" opacity="0.9"/><ellipse cx="1520" cy="858.1" rx="13.2" ry="7.9" fill="#dfe0d6"/><ellipse cx="1569.5" cy="864.8" rx="26.9" ry="9.2" fill="#b7ceaa" opacity="0.9"/><ellipse cx="1617.9" cy="876.7" rx="32.2" ry="15.8" fill="#b7ceaa" transform="rotate(12 1617.9 876.7)"/><ellipse cx="1661.4" cy="882" rx="32.6" ry="13.1" fill="#b7ceaa"/><ellipse cx="1696.1" cy="895.3" rx="28.6" ry="11.8" fill="#b7ceaa"/><ellipse cx="1733.5" cy="897.9" rx="21.5" ry="11.8" fill="#b7ceaa"/><ellipse cx="1607.9" cy="905.8" rx="8.5" ry="15.8" fill="#b7ceaa" opacity="0.9"/><ellipse cx="1694.6" cy="937.3" rx="17.6" ry="14.4" fill="#cbdaa8" opacity="0.9"/><ellipse cx="1721" cy="919" rx="12.3" ry="7.9" fill="#b7ceaa" opacity="0.8"/><ellipse cx="1625.6" cy="932.1" rx="17.5" ry="18.4" fill="#e4dcc6" opacity="0.95"/><ellipse cx="1639.2" cy="960.8" rx="12.8" ry="13.1" fill="#e9e2c0" opacity="0.9"/><ellipse cx="1624.6" cy="895.3" rx="9.5" ry="15.8" fill="#cfd3c4" opacity="0.7" transform="rotate(20 1624.6 895.3)"/><ellipse cx="1676.6" cy="990.6" rx="13" ry="7.9" fill="#b7ceaa" opacity="0.9"/><ellipse cx="1740.5" cy="1038.5" rx="39.4" ry="23.6" fill="#b7ceaa"/><ellipse cx="1764.6" cy="1059.2" rx="23.5" ry="15.8" fill="#bfd3a6" opacity="0.9"/><ellipse cx="1709.1" cy="1020.4" rx="10.5" ry="13.1" fill="#b7ceaa" opacity="0.8"/><ellipse cx="1725.3" cy="1139.9" rx="6.2" ry="26.3" fill="#b7ceaa" opacity="0.8"/><ellipse cx="1726.7" cy="1092.9" rx="6.7" ry="31.5" fill="#d6d2c6" opacity="0.95"/><ellipse cx="1738.1" cy="1147.8" rx="9.8" ry="21" fill="#e4dabf" opacity="0.9"/><ellipse cx="1796" cy="1056.6" rx="13.1" ry="18.4" fill="#e6e4b0" opacity="0.8"/><ellipse cx="1921.3" cy="968.6" rx="77.3" ry="23.6" fill="#f3e6cd"/><ellipse cx="1975.5" cy="971.2" rx="23.2" ry="23.6" fill="#f3e6cd"/><ellipse cx="1918.6" cy="950.3" rx="35.6" ry="10.5" fill="#efe4c8" opacity="0.9"/><ellipse cx="1958.3" cy="1030.8" rx="28.9" ry="15.8" fill="#b7ceaa"/><ellipse cx="1884.9" cy="1011.3" rx="23.6" ry="6.8" fill="#b7ceaa" opacity="0.9"/><ellipse cx="2026.4" cy="1012.6" rx="13.1" ry="13.1" fill="#efe0c2" opacity="0.95"/><ellipse cx="1947.1" cy="1090.3" rx="10.3" ry="21" fill="#ecdcbc" opacity="0.9"/><ellipse cx="1962.1" cy="1106" rx="15.3" ry="10.5" fill="#e9e2b8" opacity="0.8"/><ellipse cx="2005.4" cy="1010" rx="10.5" ry="13.1" fill="#d2d8ae" opacity="0.8"/><ellipse cx="1984.2" cy="1061.8" rx="23.5" ry="15.8" fill="#d6e0aa" opacity="0.7"/><ellipse cx="2027.8" cy="1080" rx="6.5" ry="15.8" fill="#d4dfaa" opacity="0.8"/><ellipse cx="1934.7" cy="900.5" rx="38.5" ry="13.1" fill="#cbdaa8" opacity="0.9"/><ellipse cx="1939.6" cy="866.1" rx="13.5" ry="15.8" fill="#b7ceaa" opacity="0.9"/><ellipse cx="2003.1" cy="879.4" rx="46.3" ry="15.8" fill="#b7ceaa"/><ellipse cx="2070.8" cy="874.1" rx="50.4" ry="17.1" fill="#b7ceaa"/><ellipse cx="2142.1" cy="879.4" rx="50.9" ry="21" fill="#b7ceaa"/><ellipse cx="2202.1" cy="887.3" rx="28.2" ry="15.8" fill="#b7ceaa" opacity="0.9"/><ellipse cx="2241.1" cy="863.4" rx="49.2" ry="13.1" fill="#dcddd0"/><ellipse cx="2280.2" cy="884.7" rx="9.4" ry="13.1" fill="#c9d6b8" opacity="0.9"/><ellipse cx="2210.9" cy="911.1" rx="14.6" ry="10.5" fill="#dfe6b4" opacity="0.8"/><ellipse cx="1895.9" cy="926.8" rx="12.4" ry="7.9" fill="#e8e2b8" opacity="0.8"/><ellipse cx="2024.4" cy="968.6" rx="25.8" ry="23.6" fill="#f5e9d4"/><ellipse cx="2058.2" cy="947.7" rx="30.5" ry="13.1" fill="#ded6c6"/><ellipse cx="1998.3" cy="930.7" rx="20" ry="6.6" fill="#e6dfc2" opacity="0.9"/><ellipse cx="2063.1" cy="916.3" rx="39.3" ry="13.1" fill="#ece6bf" opacity="0.9"/><ellipse cx="2140.8" cy="921.6" rx="42" ry="11.8" fill="#eedfc8"/><ellipse cx="2128.8" cy="945.1" rx="35.5" ry="12.1" fill="#ccd0d2"/><ellipse cx="2134.1" cy="946.4" rx="22.8" ry="7.9" fill="#d4d7d9"/><ellipse cx="2089" cy="934.7" rx="15.1" ry="9.2" fill="#cfd0cc" opacity="0.9"/><ellipse cx="2167.4" cy="937.3" rx="15.1" ry="10.5" fill="#e3dcc0" opacity="0.8"/><ellipse cx="2110.1" cy="973.7" rx="18.1" ry="18.4" fill="#e3e6b0" opacity="0.8"/><ellipse cx="2187.9" cy="960.8" rx="23.1" ry="13.1" fill="#cbdaa8" opacity="0.9"/><ellipse cx="2168.3" cy="984.1" rx="15.6" ry="21" fill="#b7ceaa" opacity="0.9"/><ellipse cx="2212" cy="913.7" rx="19.6" ry="13.1" fill="#d5dfac" opacity="0.8"/><ellipse cx="2252" cy="934.7" rx="10" ry="13.1" fill="#b7ceaa" opacity="0.8"/><ellipse cx="2205.1" cy="1029.5" rx="13.1" ry="11.8" fill="#b7ceaa"/><ellipse cx="2170.9" cy="1030.8" rx="10.5" ry="15.8" fill="#b7ceaa"/><ellipse cx="2273" cy="1043.7" rx="21" ry="9.2" fill="#b7ceaa"/><ellipse cx="2223.4" cy="1035.9" rx="7.9" ry="10.5" fill="#b7ceaa" opacity="0.9"/><ellipse cx="2227.2" cy="999.7" rx="9.1" ry="18.4" fill="#b7ceaa" opacity="0.8"/><ellipse cx="2237.8" cy="1095.5" rx="38.6" ry="18.4" fill="#edd3ae"/><ellipse cx="2220.3" cy="1092.9" rx="18" ry="13.1" fill="#ecd0aa" opacity="0.8"/><ellipse cx="2276.5" cy="1113.8" rx="12.7" ry="15.8" fill="#dfe3ae" opacity="0.8"/><ellipse cx="2331.2" cy="1139.9" rx="12.4" ry="13.1" fill="#b7ceaa" opacity="0.8"/></g></g>
<g clip-path="url(#landc)"><g filter="url(#mb2)"><path d="M1705.4 1012.6L1701.1 1028.2L1699.9 1041.1L1705.7 1056.6L1718.2 1069.6L1728.1 1080L1730.9 1095.5L1729.4 1113.8L1729.2 1134.7" fill="none" stroke="#d0cfc8" stroke-width="5" stroke-linecap="round" stroke-linejoin="round" opacity="0.85"/><path d="M1729.2 1134.7L1730.2 1155.7L1736.6 1166.2" fill="none" stroke="#dcdcd8" stroke-width="4" stroke-linecap="round" stroke-linejoin="round" opacity="0.9"/><path d="M1608.1 874.1L1616.3 892.6L1625.9 903.2L1633.1 916.3L1638.9 929.4L1637.9 942.5" fill="none" stroke="#d6d7cc" stroke-width="5" stroke-linecap="round" stroke-linejoin="round" opacity="0.6"/><path d="M1566.3 868.8L1587 871.4L1596.4 878.1" fill="none" stroke="#dcdcd4" stroke-width="5" stroke-linecap="round" stroke-linejoin="round" opacity="0.9"/><path d="M2081.5 934.7L2094.7 938.6L2109.2 949L2125.8 956.8L2141.2 957.6L2156.5 956.8" fill="none" stroke="#c2c6c8" stroke-width="6" stroke-linecap="round" stroke-linejoin="round" opacity="1"/><path d="M1920.5 912.4L1930.2 909.8L1939.9 908.4" fill="none" stroke="#d6d8cc" stroke-width="3.5" stroke-linecap="round" stroke-linejoin="round" opacity="0.9"/><path d="M2004.6 920.3L2019.8 922.9" fill="none" stroke="#d6d8cc" stroke-width="3" stroke-linecap="round" stroke-linejoin="round" opacity="0.9"/><path d="M1919.6 874.1L1924 868.8L1934.5 858.1L1944.8 851.4" fill="none" stroke="#dcdcd6" stroke-width="4.5" stroke-linecap="round" stroke-linejoin="round" opacity="0.9"/></g></g>
<path d="M1762.6 825.3l6.2 5.9 12.1 0 6.8 2.7 2.7 8.1 0 5.4 5.5 2.7 -7.1 5.3 1.6 5.4 2.6 6.6 3.5 4 6.3 2.7 4.6 0 3.4 -5.3 5.9 -6.7 7.4 -3.2 12.2 -6.2 13.3 -1.3 9.4 -4.8 -3.5 -4.6 7.1 -5.4 5 -5.4 3.1 -6.7 12.7 -8.2 -14.5 -1.9 -20.7 -3.5 -24.6 1.9 -19.1 1.4 -15.1 2.9 -10.8 1.9 0 2.8z" fill="#f3f3f3"/>
<path d="M1975.1 922.1l-0.9 -2.6 2.1 -4.5 2.8 -3.9 3.5 -1.6 3.8 1.6 1.6 3.7 4.3 -1.1 2.8 -0.8 -3.9 -2.3 5.9 -1.6 4.3 -0.8 -2.8 3.4 -2.2 1.6 2.7 1.8 5.2 2.6 4 2.1 0.3 2.9 -3.5 1.6 -5 0 -6.4 -1.8 -5 -0.8 -4.8 2.1 -6.1 0.5zM2020.7 912.4l4.6 -2.1 4.7 -1.3 5 0.8 0.5 3.1 -4.8 0.8 -0.9 1.8 5.7 4.8 1.3 3.9 3.1 3.9 0.7 5.3 -4.2 1.8 -5.2 -1.3 -2.9 -3.2 0.1 -4.4 -3.8 -4.2 -1.7 -3.1 -1.8 -4zM2154.3 896.6l3.7 -2.6 4.7 -5.3 0.9 -3.2 -2.2 0.3 -2.4 5 -3.4 3.2zM1682 909l8.2 -3.2 7.2 0.5 2.4 3.2 -5.8 0 -5.9 -0.8zM1688.7 921.6l3.5 0 4.5 -8.7 -3.5 -0.8zM1700.9 911.1l7.1 0.5 1.7 3.2 -6.6 3.6 -2.2 -2.9zM1699.7 922.4l11.2 -2.7 0.2 -0.7 -7.7 1.3zM1709.6 918.2l8.3 -0.8 0 -1.3 -6.3 0.8z" fill="#77abd3"/>
<path d="M2226.4 1231.6L2256.4 1227.6L2275.4 1225.7L2398.3 1225.7L2398.3 1287.2L2226.4 1287.2Z" fill="#e2ecf6"/>
<path d="M1413.4 1226.5L1537.5 1226.5L1561.3 1228.9L1591.1 1233L1591.1 1287.2L1413.4 1287.2Z" fill="#e4edf7"/>
<path d="M1413.4 1235.7L1551.8 1235.7L1572.7 1236.5L1591.1 1235.7L1597.9 1233.5L1605.3 1231.6L1612 1228.9L1629.3 1226.2L1647.9 1224.3L1669 1224.9L1690.7 1226.2L1697.9 1222.2L1707.9 1221.6L1722.8 1222.2L1739.9 1223L1748.4 1219.5L1756.2 1214.1L1757.6 1207.4L1762.6 1203.4L1767.7 1199.4L1775.6 1196.2L1778.5 1198.1L1773.1 1202.1L1770.2 1206.1L1765.2 1210.1L1772.4 1216.8L1779 1222.2L1779.5 1227.6L1796.3 1233L1817.3 1235.7L1837 1235.7L1851.4 1230.3L1864.5 1223.5L1880.5 1218.1L1895.2 1216L1905.8 1214.1L1927.2 1214.1L1948.6 1214.1L1970.3 1212.2L1981.3 1211.4L1992.4 1210.1L2004 1207.4L2015.7 1204.7L2027.1 1203.4L2036.9 1206.9L2047.4 1208L2057.3 1210.1L2060.4 1212.8L2067.5 1211.4L2075.3 1208.8L2085.3 1206.1L2098.9 1205.3L2114.8 1204.2L2126.8 1202.6L2136.8 1204.2L2148.4 1203.4L2158.5 1204.7L2169.1 1205.3L2180.8 1204.2L2192.4 1203.4L2203.5 1203.4L2212.9 1205.3L2223.2 1206.1L2230.9 1209.6L2239.9 1211.4L2247.8 1214.1L2256.4 1216L2264.4 1218.1L2259.4 1222.2L2246.2 1227.6L2232.5 1234.3L2240.3 1235.7L2259.9 1235.7L2398.3 1235.7L2398.3 1287.2L1413.4 1287.2Z" fill="#f5f6fa"/>
<clipPath id="icec"><path d="M1413.4 1235.7L1551.8 1235.7L1572.7 1236.5L1591.1 1235.7L1597.9 1233.5L1605.3 1231.6L1612 1228.9L1629.3 1226.2L1647.9 1224.3L1669 1224.9L1690.7 1226.2L1697.9 1222.2L1707.9 1221.6L1722.8 1222.2L1739.9 1223L1748.4 1219.5L1756.2 1214.1L1757.6 1207.4L1762.6 1203.4L1767.7 1199.4L1775.6 1196.2L1778.5 1198.1L1773.1 1202.1L1770.2 1206.1L1765.2 1210.1L1772.4 1216.8L1779 1222.2L1779.5 1227.6L1796.3 1233L1817.3 1235.7L1837 1235.7L1851.4 1230.3L1864.5 1223.5L1880.5 1218.1L1895.2 1216L1905.8 1214.1L1927.2 1214.1L1948.6 1214.1L1970.3 1212.2L1981.3 1211.4L1992.4 1210.1L2004 1207.4L2015.7 1204.7L2027.1 1203.4L2036.9 1206.9L2047.4 1208L2057.3 1210.1L2060.4 1212.8L2067.5 1211.4L2075.3 1208.8L2085.3 1206.1L2098.9 1205.3L2114.8 1204.2L2126.8 1202.6L2136.8 1204.2L2148.4 1203.4L2158.5 1204.7L2169.1 1205.3L2180.8 1204.2L2192.4 1203.4L2203.5 1203.4L2212.9 1205.3L2223.2 1206.1L2230.9 1209.6L2239.9 1211.4L2247.8 1214.1L2256.4 1216L2264.4 1218.1L2259.4 1222.2L2246.2 1227.6L2232.5 1234.3L2240.3 1235.7L2259.9 1235.7L2398.3 1235.7L2398.3 1287.2L1413.4 1287.2Z"/></clipPath>
<g clip-path="url(#icec)"><g filter="url(#mb8)" opacity="0.85"><ellipse cx="1600.1" cy="1246.5" rx="40.8" ry="13.1" fill="#e2ecf7"/><ellipse cx="1810.2" cy="1241.1" rx="26.8" ry="10.5" fill="#e6eef8"/><ellipse cx="2023.9" cy="1235.7" rx="118" ry="7.9" fill="#ecedf3"/><ellipse cx="1695.4" cy="1241.1" rx="57.4" ry="7.9" fill="#eceef4"/></g></g>
</g>
</g>
<path d="M2142.1 1267.9L2191.6 1262.6L2211.7 1257.4L2226.9 1252.1L2239.4 1246.9L2250.3 1241.6L2259.9 1236.4L2268.6 1231.1L2276.5 1225.9L2283.8 1220.6L2290.6 1215.4L2296.8 1210.1L2302.7 1204.8L2308.2 1199.6L2313.3 1194.3L2318.1 1189.1L2322.7 1183.8L2327 1178.6L2331.1 1173.3L2334.9 1168.1L2338.5 1162.8L2341.9 1157.6L2345.1 1152.3L2348.1 1147L2351 1141.8L2353.7 1136.5L2356.2 1131.3L2358.6 1126L2360.8 1120.8L2362.9 1115.5L2364.8 1110.3L2366.6 1105L2368.2 1099.8L2369.7 1094.5L2371.1 1089.2L2372.4 1084L2373.5 1078.7L2374.5 1073.5L2375.4 1068.2L2376.2 1063L2376.8 1057.7L2377.4 1052.5L2377.8 1047.2L2378.1 1042L2378.2 1036.7L2378.3 1031.5L2378.2 1026.2L2378.1 1020.9L2377.8 1015.7L2377.4 1010.4L2376.8 1005.2L2376.2 999.9L2375.4 994.7L2374.5 989.4L2373.5 984.2L2372.4 978.9L2371.1 973.7L2369.7 968.4L2368.2 963.1L2366.6 957.9L2364.8 952.6L2362.9 947.4L2360.8 942.1L2358.6 936.9L2356.2 931.6L2353.7 926.4L2351 921.1L2348.1 915.9L2345.1 910.6L2341.9 905.3L2338.5 900.1L2334.9 894.8L2331.1 889.6L2327 884.3L2322.7 879.1L2318.1 873.8L2313.3 868.6L2308.2 863.3L2302.7 858.1L2296.8 852.8L2290.6 847.5L2283.8 842.3L2276.5 837L2268.6 831.8L2259.9 826.5L2250.3 821.3L2239.4 816L2226.9 810.8L2211.7 805.5L2191.6 800.3L2142.1 795L1669.6 795L1620.1 800.3L1600 805.5L1584.8 810.8L1572.3 816L1561.4 821.3L1551.8 826.5L1543.1 831.8L1535.2 837L1527.9 842.3L1521.1 847.5L1514.9 852.8L1509 858.1L1503.5 863.3L1498.4 868.6L1493.6 873.8L1489 879.1L1484.7 884.3L1480.6 889.6L1476.8 894.8L1473.2 900.1L1469.8 905.3L1466.6 910.6L1463.6 915.9L1460.7 921.1L1458 926.4L1455.5 931.6L1453.1 936.9L1450.9 942.1L1448.8 947.4L1446.9 952.6L1445.1 957.9L1443.5 963.1L1442 968.4L1440.6 973.7L1439.3 978.9L1438.2 984.2L1437.2 989.4L1436.3 994.7L1435.5 999.9L1434.9 1005.2L1434.3 1010.4L1433.9 1015.7L1433.6 1020.9L1433.5 1026.2L1433.4 1031.5L1433.5 1036.7L1433.6 1042L1433.9 1047.2L1434.3 1052.5L1434.9 1057.7L1435.5 1063L1436.3 1068.2L1437.2 1073.5L1438.2 1078.7L1439.3 1084L1440.6 1089.2L1442 1094.5L1443.5 1099.8L1445.1 1105L1446.9 1110.3L1448.8 1115.5L1450.9 1120.8L1453.1 1126L1455.5 1131.3L1458 1136.5L1460.7 1141.8L1463.6 1147L1466.6 1152.3L1469.8 1157.6L1473.2 1162.8L1476.8 1168.1L1480.6 1173.3L1484.7 1178.6L1489 1183.8L1493.6 1189.1L1498.4 1194.3L1503.5 1199.6L1509 1204.8L1514.9 1210.1L1521.1 1215.4L1527.9 1220.6L1535.2 1225.9L1543.1 1231.1L1551.8 1236.4L1561.4 1241.6L1572.3 1246.9L1584.8 1252.1L1600 1257.4L1620.1 1262.6L1669.6 1267.9Z" fill="none" stroke="#000" stroke-width="3" stroke-linejoin="round"/>
<path d="M1675.1 840 Q1680.6 847 1682.9 858.1" fill="none" stroke="#ff7f0e" stroke-width="4.6"/>
<line x1="1682.9" y1="858.1" x2="1684.4" y2="877.3" stroke="#ff5a00" stroke-width="4.6"/>
<line x1="1684.4" y1="877.3" x2="1683.7" y2="896.7" stroke="#ff3300" stroke-width="4.6"/>
<line x1="1683.7" y1="896.7" x2="1682.3" y2="916.2" stroke="#ff1800" stroke-width="4.6"/>
<circle cx="1675.1" cy="840" r="5.6" fill="#000"/>
<circle cx="1682.9" cy="858.1" r="5.6" fill="#000"/>
<circle cx="1684.4" cy="877.3" r="5.6" fill="#000"/>
<circle cx="1683.7" cy="896.7" r="5.6" fill="#000"/>
<circle cx="1682.3" cy="916.2" r="5.6" fill="#000"/>
<text x="1684.6" y="846.7" font-size="27.78">04:36:32 UT</text>
<text x="1694.1" y="923.5" font-size="27.78">04:46:40 UT</text>
</g>
<circle cx="1458.5" cy="1353.5" r="7" fill="#000"/>
<text x="1498" y="1359.7" font-size="22.2" text-anchor="start" fill="#000">Axis intervals</text>
<text x="1452" y="1404" font-size="22.2" text-anchor="start" fill="#000">Operating mode: AM</text>
<rect x="1745" y="1308" width="549" height="26.5" fill="url(#cmh)" stroke="#000" stroke-width="2.2"/>
<line x1="1790.75" y1="1334.5" x2="1790.75" y2="1344.2" stroke="#000" stroke-width="2.2"/>
<text x="1790.75" y="1372.2" font-size="22.2" text-anchor="middle" fill="#000">400</text>
<line x1="1882.25" y1="1334.5" x2="1882.25" y2="1344.2" stroke="#000" stroke-width="2.2"/>
<text x="1882.25" y="1372.2" font-size="22.2" text-anchor="middle" fill="#000">600</text>
<line x1="1973.75" y1="1334.5" x2="1973.75" y2="1344.2" stroke="#000" stroke-width="2.2"/>
<text x="1973.75" y="1372.2" font-size="22.2" text-anchor="middle" fill="#000">800</text>
<line x1="2065.25" y1="1334.5" x2="2065.25" y2="1344.2" stroke="#000" stroke-width="2.2"/>
<text x="2065.25" y="1372.2" font-size="22.2" text-anchor="middle" fill="#000">1000</text>
<line x1="2156.75" y1="1334.5" x2="2156.75" y2="1344.2" stroke="#000" stroke-width="2.2"/>
<text x="2156.75" y="1372.2" font-size="22.2" text-anchor="middle" fill="#000">1200</text>
<line x1="2248.25" y1="1334.5" x2="2248.25" y2="1344.2" stroke="#000" stroke-width="2.2"/>
<text x="2248.25" y="1372.2" font-size="22.2" text-anchor="middle" fill="#000">1400</text>
<text x="2019.5" y="1407" font-size="22.2" text-anchor="middle" fill="#000">Altitude (km)</text>
<text x="1608.5" y="1450.3" font-size="22.2" text-anchor="middle" fill="#000">VSA</text>
<text x="1739" y="1450.3" font-size="22.2" text-anchor="middle" fill="#000">VES</text>
<text x="1870" y="1450.3" font-size="22.2" text-anchor="middle" fill="#000">VD+</text>
<text x="2001" y="1450.3" font-size="22.2" text-anchor="middle" fill="#000">VD-</text>
<text x="2132" y="1450.3" font-size="22.2" text-anchor="middle" fill="#000">VMCPF</text>
<text x="2263" y="1450.3" font-size="22.2" text-anchor="middle" fill="#000">VCMPB</text>
<text x="1451" y="1479.7" font-size="22.2" text-anchor="start" fill="#000">Min (V)</text>
<text x="1608.5" y="1479.7" font-size="22.2" text-anchor="middle" fill="#000">-348</text>
<text x="1739" y="1479.7" font-size="22.2" text-anchor="middle" fill="#000">-0.38</text>
<text x="1870" y="1479.7" font-size="22.2" text-anchor="middle" fill="#000">-0.01</text>
<text x="2001" y="1479.7" font-size="22.2" text-anchor="middle" fill="#000">-9.96</text>
<text x="2132" y="1479.7" font-size="22.2" text-anchor="middle" fill="#000">-1987</text>
<text x="2263" y="1479.7" font-size="22.2" text-anchor="middle" fill="#000">-199</text>
<text x="1451" y="1509.3" font-size="22.2" text-anchor="start" fill="#000">Max (V)</text>
<text x="1608.5" y="1509.3" font-size="22.2" text-anchor="middle" fill="#000">0</text>
<text x="1739" y="1509.3" font-size="22.2" text-anchor="middle" fill="#000">0.32</text>
<text x="1870" y="1509.3" font-size="22.2" text-anchor="middle" fill="#000">9.95</text>
<text x="2001" y="1509.3" font-size="22.2" text-anchor="middle" fill="#000">0.58</text>
<text x="2132" y="1509.3" font-size="22.2" text-anchor="middle" fill="#000">-1</text>
<text x="2263" y="1509.3" font-size="22.2" text-anchor="middle" fill="#000">0</text>
<text x="1451" y="1538.9" font-size="22.2" text-anchor="start" fill="#000">Ave (V)</text>
<text x="1608.5" y="1538.9" font-size="22.2" text-anchor="middle" fill="#000">-1</text>
<text x="1739" y="1538.9" font-size="22.2" text-anchor="middle" fill="#000">-0.16</text>
<text x="1870" y="1538.9" font-size="22.2" text-anchor="middle" fill="#000">0.01</text>
<text x="2001" y="1538.9" font-size="22.2" text-anchor="middle" fill="#000">0.01</text>
<text x="2132" y="1538.9" font-size="22.2" text-anchor="middle" fill="#000">-17</text>
<text x="2263" y="1538.9" font-size="22.2" text-anchor="middle" fill="#000">-2</text>
<text x="1448" y="1580.2" font-size="27.78" text-anchor="start" fill="#000">Produced by irm_summary version 5</text>
</svg>
</body></html>
